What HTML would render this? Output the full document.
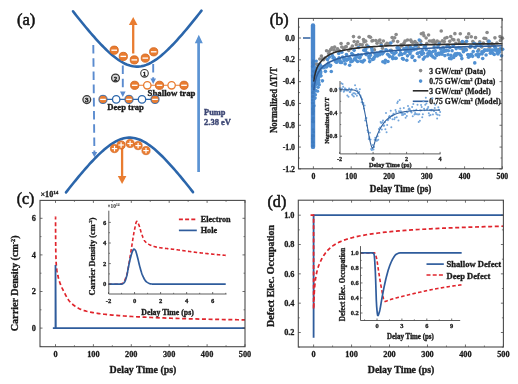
<!DOCTYPE html>
<html><head><meta charset="utf-8"><style>
html,body{margin:0;padding:0;background:#fff;}
svg{display:block;font-family:"Liberation Serif", serif;filter:blur(0.4px);}
</style></head><body>
<svg width="518" height="384" viewBox="0 0 518 384">
<rect width="518" height="384" fill="#fff"/>
<text x="17" y="24.9" font-size="17" text-anchor="start" font-weight="normal" fill="#111" textLength="18.3" lengthAdjust="spacingAndGlyphs" stroke="#111" stroke-width="0.55">(a)</text>
<path d="M73,11.31 L74.63,13.38 L76.25,15.44 L77.88,17.49 L79.51,19.52 L81.13,21.54 L82.76,23.54 L84.39,25.52 L86.01,27.48 L87.64,29.43 L89.27,31.35 L90.89,33.25 L92.52,35.13 L94.15,36.98 L95.77,38.8 L97.4,40.59 L99.03,42.35 L100.65,44.07 L102.28,45.76 L103.91,47.41 L105.53,49.02 L107.16,50.58 L108.78,52.09 L110.41,53.55 L112.04,54.96 L113.66,56.3 L115.29,57.59 L116.92,58.8 L118.54,59.94 L120.17,61.01 L121.8,62 L123.42,62.9 L125.05,63.71 L126.68,64.43 L128.3,65.05 L129.93,65.57 L131.56,65.99 L133.18,66.3 L134.81,66.5 L136.44,66.59 L138.06,66.58 L139.69,66.45 L141.32,66.21 L142.94,65.87 L144.57,65.42 L146.2,64.87 L147.82,64.22 L149.45,63.47 L151.08,62.63 L152.7,61.7 L154.33,60.69 L155.96,59.6 L157.58,58.44 L159.21,57.2 L160.84,55.9 L162.46,54.53 L164.09,53.11 L165.72,51.63 L167.34,50.1 L168.97,48.53 L170.59,46.91 L172.22,45.25 L173.85,43.55 L175.47,41.81 L177.1,40.04 L178.73,38.24 L180.35,36.41 L181.98,34.55 L183.61,32.67 L185.23,30.76 L186.86,28.83 L188.49,26.88 L190.11,24.91 L191.74,22.92 L193.37,20.92 L194.99,18.9 L196.62,16.86 L198.25,14.81 L199.87,12.75 L201.5,10.67" fill="none" stroke="#2b66ab" stroke-width="2.6" stroke-linecap="round"/>
<path d="M66,192.38 L67.61,190.33 L69.22,188.3 L70.82,186.28 L72.43,184.28 L74.04,182.29 L75.65,180.31 L77.25,178.36 L78.86,176.42 L80.47,174.5 L82.08,172.6 L83.68,170.73 L85.29,168.88 L86.9,167.05 L88.51,165.25 L90.11,163.49 L91.72,161.75 L93.33,160.05 L94.94,158.38 L96.54,156.75 L98.15,155.16 L99.76,153.62 L101.37,152.12 L102.97,150.68 L104.58,149.29 L106.19,147.96 L107.8,146.69 L109.41,145.48 L111.01,144.35 L112.62,143.28 L114.23,142.3 L115.84,141.4 L117.44,140.59 L119.05,139.87 L120.66,139.24 L122.27,138.71 L123.87,138.28 L125.48,137.95 L127.09,137.73 L128.7,137.62 L130.3,137.61 L131.91,137.71 L133.52,137.92 L135.13,138.23 L136.73,138.65 L138.34,139.17 L139.95,139.78 L141.56,140.49 L143.16,141.3 L144.77,142.19 L146.38,143.16 L147.99,144.21 L149.59,145.34 L151.2,146.53 L152.81,147.79 L154.42,149.12 L156.03,150.5 L157.63,151.94 L159.24,153.43 L160.85,154.97 L162.46,156.55 L164.06,158.17 L165.67,159.84 L167.28,161.54 L168.89,163.27 L170.49,165.03 L172.1,166.83 L173.71,168.65 L175.32,170.5 L176.92,172.37 L178.53,174.26 L180.14,176.18 L181.75,178.11 L183.35,180.07 L184.96,182.04 L186.57,184.03 L188.18,186.03 L189.78,188.05 L191.39,190.08 L193,192.13" fill="none" stroke="#2b66ab" stroke-width="2.6" stroke-linecap="round"/>
<line x1="198.6" y1="172" x2="198.6" y2="41" stroke="#5b93d3" stroke-width="2.7"/>
<path d="M198.8,34.8 L202.8,43.2 L194.8,43.2 Z" fill="#5b93d3"/>
<text x="204.1" y="114.6" font-size="8.4" text-anchor="start" font-weight="bold" fill="#3c4674" textLength="21.4" lengthAdjust="spacingAndGlyphs" stroke="#3c4674" stroke-width="0.38">Pump</text>
<text x="204.1" y="124.8" font-size="8.4" text-anchor="start" font-weight="bold" fill="#3c4674" textLength="26.9" lengthAdjust="spacingAndGlyphs" stroke="#3c4674" stroke-width="0.38">2.38 eV</text>
<line x1="93.3" y1="45" x2="94.4" y2="153.8" stroke="#5a8bcf" stroke-width="1.9" stroke-dasharray="8.6,4.6"/>
<path d="M94.4,157.3 L97.2,151.9 L91.60000000000001,151.9 Z" fill="#5a8bcf"/>
<line x1="122.8" y1="65.5" x2="122.8" y2="93.5" stroke="#5a8bcf" stroke-width="1.9" stroke-dasharray="8.6,4.6"/>
<path d="M122.8,97 L125.6,91.6 L120.0,91.6 Z" fill="#5a8bcf"/>
<line x1="153.2" y1="64" x2="153.2" y2="80.5" stroke="#5a8bcf" stroke-width="1.9" stroke-dasharray="8.6,4.6"/>
<path d="M153.2,84 L156.0,78.6 L150.39999999999998,78.6 Z" fill="#5a8bcf"/>
<line x1="133.2" y1="53.5" x2="133.2" y2="24" stroke="#e97c30" stroke-width="2.3"/>
<path d="M133.2,17 L137.5,25 L128.9,25 Z" fill="#e97c30"/>
<line x1="122.1" y1="146" x2="122.1" y2="177" stroke="#e97c30" stroke-width="2.3"/>
<path d="M122.1,184 L126.4,176 L117.8,176 Z" fill="#e97c30"/>
<circle cx="114.2" cy="50.2" r="4.1" fill="#e97c30" stroke="#d4661f" stroke-width="0.9"/>
<rect x="111.4" y="49.550000000000004" width="5.6" height="1.3" fill="#fff"/>
<circle cx="123.3" cy="56.4" r="4.1" fill="#e97c30" stroke="#d4661f" stroke-width="0.9"/>
<rect x="120.5" y="55.75" width="5.6" height="1.3" fill="#fff"/>
<circle cx="134.3" cy="59.9" r="4.1" fill="#e97c30" stroke="#d4661f" stroke-width="0.9"/>
<rect x="131.5" y="59.25" width="5.6" height="1.3" fill="#fff"/>
<circle cx="145.3" cy="58.1" r="4.1" fill="#e97c30" stroke="#d4661f" stroke-width="0.9"/>
<rect x="142.5" y="57.45" width="5.6" height="1.3" fill="#fff"/>
<circle cx="153.7" cy="51.8" r="4.1" fill="#e97c30" stroke="#d4661f" stroke-width="0.9"/>
<rect x="150.89999999999998" y="51.15" width="5.6" height="1.3" fill="#fff"/>
<circle cx="114.5" cy="148.6" r="4.1" fill="#e97c30" stroke="#d4661f" stroke-width="0.7"/>
<rect x="111.8" y="148.0" width="5.4" height="1.2" fill="#fff"/>
<rect x="113.9" y="145.9" width="1.2" height="5.4" fill="#fff"/>
<circle cx="146.0" cy="150.6" r="4.1" fill="#e97c30" stroke="#d4661f" stroke-width="0.7"/>
<rect x="143.3" y="150.0" width="5.4" height="1.2" fill="#fff"/>
<rect x="145.4" y="147.9" width="1.2" height="5.4" fill="#fff"/>
<circle cx="138.1" cy="145.6" r="4.1" fill="#e97c30" stroke="#d4661f" stroke-width="0.7"/>
<rect x="135.4" y="145.0" width="5.4" height="1.2" fill="#fff"/>
<rect x="137.5" y="142.9" width="1.2" height="5.4" fill="#fff"/>
<circle cx="121.1" cy="145" r="4.1" fill="#e97c30" stroke="#d4661f" stroke-width="0.7"/>
<rect x="118.39999999999999" y="144.4" width="5.4" height="1.2" fill="#fff"/>
<rect x="120.5" y="142.3" width="1.2" height="5.4" fill="#fff"/>
<circle cx="130.1" cy="143.5" r="4.1" fill="#e97c30" stroke="#d4661f" stroke-width="0.7"/>
<rect x="127.39999999999999" y="142.9" width="5.4" height="1.2" fill="#fff"/>
<rect x="129.5" y="140.8" width="1.2" height="5.4" fill="#fff"/>
<line x1="134" y1="85.3" x2="185" y2="85.3" stroke="#e97c30" stroke-width="1.1"/>
<circle cx="134.7" cy="85.3" r="4.1" fill="#e97c30" stroke="#d4661f" stroke-width="0.9"/>
<rect x="131.89999999999998" y="84.64999999999999" width="5.6" height="1.3" fill="#fff"/>
<circle cx="147.3" cy="85.3" r="3.7" fill="#fff" stroke="#e97c30" stroke-width="1.3"/>
<circle cx="159.5" cy="85.3" r="4.1" fill="#e97c30" stroke="#d4661f" stroke-width="0.9"/>
<rect x="156.7" y="84.64999999999999" width="5.6" height="1.3" fill="#fff"/>
<circle cx="171.6" cy="85.3" r="3.7" fill="#fff" stroke="#e97c30" stroke-width="1.3"/>
<circle cx="184" cy="85.3" r="4.1" fill="#e97c30" stroke="#d4661f" stroke-width="0.9"/>
<rect x="181.2" y="84.64999999999999" width="5.6" height="1.3" fill="#fff"/>
<text x="147.6" y="95.7" font-size="8.6" text-anchor="start" font-weight="bold" fill="#1a1a1a" textLength="47.9" lengthAdjust="spacingAndGlyphs" stroke="#1a1a1a" stroke-width="0.35">Shallow trap</text>
<line x1="103" y1="99.4" x2="155" y2="99.4" stroke="#2b66ab" stroke-width="1.1"/>
<circle cx="103" cy="99.4" r="4.1" fill="#e97c30" stroke="#2b66ab" stroke-width="0.9"/>
<rect x="100.2" y="98.75" width="5.6" height="1.3" fill="#fff"/>
<circle cx="116.2" cy="99.4" r="3.7" fill="#fff" stroke="#2b66ab" stroke-width="1.3"/>
<circle cx="129" cy="99.4" r="4.1" fill="#e97c30" stroke="#2b66ab" stroke-width="0.9"/>
<rect x="126.2" y="98.75" width="5.6" height="1.3" fill="#fff"/>
<circle cx="142" cy="99.4" r="3.7" fill="#fff" stroke="#2b66ab" stroke-width="1.3"/>
<circle cx="155" cy="99.4" r="4.1" fill="#e97c30" stroke="#2b66ab" stroke-width="0.9"/>
<rect x="152.2" y="98.75" width="5.6" height="1.3" fill="#fff"/>
<text x="107.3" y="110.4" font-size="8.6" text-anchor="start" font-weight="bold" fill="#1a1a1a" textLength="36.5" lengthAdjust="spacingAndGlyphs" stroke="#1a1a1a" stroke-width="0.35">Deep trap</text>
<circle cx="144.5" cy="73.3" r="3.8" fill="#fff" stroke="#3a3a3a" stroke-width="1.1"/>
<text x="144.5" y="75.7" font-size="6.8" text-anchor="middle" font-weight="bold" fill="#222" stroke="#222" stroke-width="0.3">1</text>
<circle cx="115.5" cy="78.0" r="3.9" fill="#d8d8d8" stroke="#3a3a3a" stroke-width="1.3"/>
<text x="115.5" y="80.5" font-size="7.0" text-anchor="middle" font-weight="bold" fill="#2a2a2a" stroke="#2a2a2a" stroke-width="0.5">2</text>
<circle cx="86.8" cy="99.6" r="3.9" fill="#d8d8d8" stroke="#3a3a3a" stroke-width="1.3"/>
<text x="86.8" y="102.1" font-size="7.0" text-anchor="middle" font-weight="bold" fill="#2a2a2a" stroke="#2a2a2a" stroke-width="0.5">3</text>
<text x="269.8" y="24.9" font-size="17" text-anchor="start" font-weight="normal" fill="#111" textLength="18.7" lengthAdjust="spacingAndGlyphs" stroke="#111" stroke-width="0.55">(b)</text>
<circle cx="315.6" cy="64.02" r="1.8" fill="#8a8a8a"/>
<circle cx="317.05" cy="64.28" r="1.8" fill="#8a8a8a"/>
<circle cx="318.05" cy="64.63" r="1.8" fill="#8a8a8a"/>
<circle cx="319.78" cy="58.95" r="1.8" fill="#8a8a8a"/>
<circle cx="321.4" cy="56" r="1.8" fill="#8a8a8a"/>
<circle cx="322.22" cy="58.72" r="1.8" fill="#8a8a8a"/>
<circle cx="323.62" cy="59.7" r="1.8" fill="#8a8a8a"/>
<circle cx="325.05" cy="57.93" r="1.8" fill="#8a8a8a"/>
<circle cx="326.57" cy="50.81" r="1.8" fill="#8a8a8a"/>
<circle cx="328.73" cy="53.54" r="1.8" fill="#8a8a8a"/>
<circle cx="329.07" cy="51.55" r="1.8" fill="#8a8a8a"/>
<circle cx="330.64" cy="49.67" r="1.8" fill="#8a8a8a"/>
<circle cx="332.01" cy="47.83" r="1.8" fill="#8a8a8a"/>
<circle cx="333.75" cy="49.95" r="1.8" fill="#8a8a8a"/>
<circle cx="334.63" cy="47.17" r="1.8" fill="#8a8a8a"/>
<circle cx="336.52" cy="50.75" r="1.8" fill="#8a8a8a"/>
<circle cx="337.58" cy="48.89" r="1.8" fill="#8a8a8a"/>
<circle cx="339.1" cy="50.53" r="1.8" fill="#8a8a8a"/>
<circle cx="341.08" cy="43.55" r="1.8" fill="#8a8a8a"/>
<circle cx="341.79" cy="46.93" r="1.8" fill="#8a8a8a"/>
<circle cx="343.67" cy="48.75" r="1.8" fill="#8a8a8a"/>
<circle cx="344.83" cy="47.33" r="1.8" fill="#8a8a8a"/>
<circle cx="346.23" cy="46.66" r="1.8" fill="#8a8a8a"/>
<circle cx="348.08" cy="43.43" r="1.8" fill="#8a8a8a"/>
<circle cx="348.73" cy="50.5" r="1.8" fill="#8a8a8a"/>
<circle cx="350.99" cy="48.37" r="1.8" fill="#8a8a8a"/>
<circle cx="352.35" cy="46.06" r="1.8" fill="#8a8a8a"/>
<circle cx="353.48" cy="36.6" r="1.8" fill="#8a8a8a"/>
<circle cx="354.18" cy="41.52" r="1.8" fill="#8a8a8a"/>
<circle cx="356.27" cy="44.65" r="1.8" fill="#8a8a8a"/>
<circle cx="357.59" cy="41.82" r="1.8" fill="#8a8a8a"/>
<circle cx="359.18" cy="37.26" r="1.8" fill="#8a8a8a"/>
<circle cx="359.94" cy="44.64" r="1.8" fill="#8a8a8a"/>
<circle cx="362.17" cy="44.87" r="1.8" fill="#8a8a8a"/>
<circle cx="363.49" cy="39.54" r="1.8" fill="#8a8a8a"/>
<circle cx="364" cy="41.87" r="1.8" fill="#8a8a8a"/>
<circle cx="365.63" cy="41.13" r="1.8" fill="#8a8a8a"/>
<circle cx="366.7" cy="44.98" r="1.8" fill="#8a8a8a"/>
<circle cx="369" cy="36.62" r="1.8" fill="#8a8a8a"/>
<circle cx="370.49" cy="37.21" r="1.8" fill="#8a8a8a"/>
<circle cx="371.96" cy="40.97" r="1.8" fill="#8a8a8a"/>
<circle cx="372.93" cy="40.5" r="1.8" fill="#8a8a8a"/>
<circle cx="374.38" cy="49.7" r="1.8" fill="#8a8a8a"/>
<circle cx="375.79" cy="40.46" r="1.8" fill="#8a8a8a"/>
<circle cx="377.06" cy="43.25" r="1.8" fill="#8a8a8a"/>
<circle cx="378.89" cy="40.97" r="1.8" fill="#8a8a8a"/>
<circle cx="379.89" cy="40.04" r="1.8" fill="#8a8a8a"/>
<circle cx="380.98" cy="43.56" r="1.8" fill="#8a8a8a"/>
<circle cx="382.57" cy="48.25" r="1.8" fill="#8a8a8a"/>
<circle cx="383.4" cy="40.95" r="1.8" fill="#8a8a8a"/>
<circle cx="385.6" cy="44.78" r="1.8" fill="#8a8a8a"/>
<circle cx="386.96" cy="43.26" r="1.8" fill="#8a8a8a"/>
<circle cx="388.04" cy="44.21" r="1.8" fill="#8a8a8a"/>
<circle cx="389.92" cy="43.19" r="1.8" fill="#8a8a8a"/>
<circle cx="391.21" cy="50.28" r="1.8" fill="#8a8a8a"/>
<circle cx="392.13" cy="37.45" r="1.8" fill="#8a8a8a"/>
<circle cx="393.23" cy="40.91" r="1.8" fill="#8a8a8a"/>
<circle cx="394.68" cy="37.7" r="1.8" fill="#8a8a8a"/>
<circle cx="396.13" cy="34.44" r="1.8" fill="#8a8a8a"/>
<circle cx="397.66" cy="41.59" r="1.8" fill="#8a8a8a"/>
<circle cx="399.22" cy="48.32" r="1.8" fill="#8a8a8a"/>
<circle cx="401.16" cy="44.91" r="1.8" fill="#8a8a8a"/>
<circle cx="401.82" cy="46.07" r="1.8" fill="#8a8a8a"/>
<circle cx="403.91" cy="43.37" r="1.8" fill="#8a8a8a"/>
<circle cx="405.06" cy="41.14" r="1.8" fill="#8a8a8a"/>
<circle cx="406.65" cy="49.01" r="1.8" fill="#8a8a8a"/>
<circle cx="407.53" cy="40.07" r="1.8" fill="#8a8a8a"/>
<circle cx="408.47" cy="47.12" r="1.8" fill="#8a8a8a"/>
<circle cx="410.75" cy="40.14" r="1.8" fill="#8a8a8a"/>
<circle cx="411.53" cy="41.69" r="1.8" fill="#8a8a8a"/>
<circle cx="412.81" cy="42.45" r="1.8" fill="#8a8a8a"/>
<circle cx="414.95" cy="41.46" r="1.8" fill="#8a8a8a"/>
<circle cx="416.21" cy="43.26" r="1.8" fill="#8a8a8a"/>
<circle cx="417.07" cy="43.53" r="1.8" fill="#8a8a8a"/>
<circle cx="418.53" cy="47.72" r="1.8" fill="#8a8a8a"/>
<circle cx="420.68" cy="41.15" r="1.8" fill="#8a8a8a"/>
<circle cx="421.31" cy="33.69" r="1.8" fill="#8a8a8a"/>
<circle cx="423.2" cy="33.07" r="1.8" fill="#8a8a8a"/>
<circle cx="423.94" cy="35.67" r="1.8" fill="#8a8a8a"/>
<circle cx="426.11" cy="38.07" r="1.8" fill="#8a8a8a"/>
<circle cx="426.72" cy="43.63" r="1.8" fill="#8a8a8a"/>
<circle cx="428.56" cy="35.01" r="1.8" fill="#8a8a8a"/>
<circle cx="429.41" cy="41.07" r="1.8" fill="#8a8a8a"/>
<circle cx="431.39" cy="41.08" r="1.8" fill="#8a8a8a"/>
<circle cx="433.12" cy="41.97" r="1.8" fill="#8a8a8a"/>
<circle cx="433.65" cy="40.38" r="1.8" fill="#8a8a8a"/>
<circle cx="435.25" cy="42.53" r="1.8" fill="#8a8a8a"/>
<circle cx="437.2" cy="41.04" r="1.8" fill="#8a8a8a"/>
<circle cx="438.42" cy="45.19" r="1.8" fill="#8a8a8a"/>
<circle cx="439.48" cy="42.21" r="1.8" fill="#8a8a8a"/>
<circle cx="441.23" cy="31.03" r="1.8" fill="#8a8a8a"/>
<circle cx="442.43" cy="40.89" r="1.8" fill="#8a8a8a"/>
<circle cx="444.28" cy="41.58" r="1.8" fill="#8a8a8a"/>
<circle cx="445.03" cy="38.29" r="1.8" fill="#8a8a8a"/>
<circle cx="446.95" cy="37.5" r="1.8" fill="#8a8a8a"/>
<circle cx="448.21" cy="45.27" r="1.8" fill="#8a8a8a"/>
<circle cx="449.72" cy="41.37" r="1.8" fill="#8a8a8a"/>
<circle cx="450.7" cy="36.5" r="1.8" fill="#8a8a8a"/>
<circle cx="452.49" cy="39.27" r="1.8" fill="#8a8a8a"/>
<circle cx="453.85" cy="39.89" r="1.8" fill="#8a8a8a"/>
<circle cx="454.89" cy="33.63" r="1.8" fill="#8a8a8a"/>
<circle cx="455.88" cy="43.35" r="1.8" fill="#8a8a8a"/>
<circle cx="458.33" cy="39.99" r="1.8" fill="#8a8a8a"/>
<circle cx="459.44" cy="42.63" r="1.8" fill="#8a8a8a"/>
<circle cx="460.26" cy="33.74" r="1.8" fill="#8a8a8a"/>
<circle cx="462.25" cy="48.98" r="1.8" fill="#8a8a8a"/>
<circle cx="463.13" cy="43.27" r="1.8" fill="#8a8a8a"/>
<circle cx="464.74" cy="42.64" r="1.8" fill="#8a8a8a"/>
<circle cx="466.58" cy="37.26" r="1.8" fill="#8a8a8a"/>
<circle cx="467.5" cy="37.5" r="1.8" fill="#8a8a8a"/>
<circle cx="468.72" cy="33.91" r="1.8" fill="#8a8a8a"/>
<circle cx="470.13" cy="47.34" r="1.8" fill="#8a8a8a"/>
<circle cx="471.26" cy="36.78" r="1.8" fill="#8a8a8a"/>
<circle cx="472.82" cy="41.51" r="1.8" fill="#8a8a8a"/>
<circle cx="474.27" cy="43.21" r="1.8" fill="#8a8a8a"/>
<circle cx="475.55" cy="37.66" r="1.8" fill="#8a8a8a"/>
<circle cx="476.82" cy="44.37" r="1.8" fill="#8a8a8a"/>
<circle cx="478.67" cy="49.74" r="1.8" fill="#8a8a8a"/>
<circle cx="479.78" cy="41.82" r="1.8" fill="#8a8a8a"/>
<circle cx="481.77" cy="47.07" r="1.8" fill="#8a8a8a"/>
<circle cx="483.37" cy="43.11" r="1.8" fill="#8a8a8a"/>
<circle cx="484.03" cy="38.31" r="1.8" fill="#8a8a8a"/>
<circle cx="485.76" cy="38.57" r="1.8" fill="#8a8a8a"/>
<circle cx="487.08" cy="32.52" r="1.8" fill="#8a8a8a"/>
<circle cx="487.98" cy="40.97" r="1.8" fill="#8a8a8a"/>
<circle cx="489.43" cy="47.31" r="1.8" fill="#8a8a8a"/>
<circle cx="491.69" cy="43.61" r="1.8" fill="#8a8a8a"/>
<circle cx="492.62" cy="44.39" r="1.8" fill="#8a8a8a"/>
<circle cx="494.38" cy="45.83" r="1.8" fill="#8a8a8a"/>
<circle cx="494.94" cy="37.86" r="1.8" fill="#8a8a8a"/>
<circle cx="496.93" cy="43.07" r="1.8" fill="#8a8a8a"/>
<circle cx="498.63" cy="49.55" r="1.8" fill="#8a8a8a"/>
<circle cx="500.03" cy="36.52" r="1.8" fill="#8a8a8a"/>
<circle cx="500.45" cy="40.46" r="1.8" fill="#8a8a8a"/>
<circle cx="502.42" cy="38.15" r="1.8" fill="#8a8a8a"/>
<circle cx="315.01" cy="87.07" r="1.8" fill="#5090d2"/>
<circle cx="315.91" cy="75.27" r="1.8" fill="#5090d2"/>
<circle cx="316.51" cy="84.28" r="1.8" fill="#5090d2"/>
<circle cx="316.8" cy="78.34" r="1.8" fill="#5090d2"/>
<circle cx="317.55" cy="75.96" r="1.8" fill="#5090d2"/>
<circle cx="318.68" cy="79.75" r="1.8" fill="#5090d2"/>
<circle cx="318.72" cy="65.72" r="1.8" fill="#5090d2"/>
<circle cx="320.03" cy="64.88" r="1.8" fill="#5090d2"/>
<circle cx="320.71" cy="72.83" r="1.8" fill="#5090d2"/>
<circle cx="321.16" cy="66.65" r="1.8" fill="#5090d2"/>
<circle cx="321.73" cy="67.83" r="1.8" fill="#5090d2"/>
<circle cx="322.41" cy="80.86" r="1.8" fill="#5090d2"/>
<circle cx="323.09" cy="67.1" r="1.8" fill="#5090d2"/>
<circle cx="323.93" cy="67.82" r="1.8" fill="#5090d2"/>
<circle cx="324.67" cy="66.57" r="1.8" fill="#5090d2"/>
<circle cx="325.41" cy="71.35" r="1.8" fill="#5090d2"/>
<circle cx="326.44" cy="66.96" r="1.8" fill="#5090d2"/>
<circle cx="326.98" cy="66.2" r="1.8" fill="#5090d2"/>
<circle cx="327.55" cy="59.6" r="1.8" fill="#5090d2"/>
<circle cx="328.52" cy="62.96" r="1.8" fill="#5090d2"/>
<circle cx="328.64" cy="64.46" r="1.8" fill="#5090d2"/>
<circle cx="329.29" cy="57.09" r="1.8" fill="#5090d2"/>
<circle cx="330.33" cy="66.12" r="1.8" fill="#5090d2"/>
<circle cx="330.6" cy="65.23" r="1.8" fill="#5090d2"/>
<circle cx="331.29" cy="71.46" r="1.8" fill="#5090d2"/>
<circle cx="332.35" cy="55.48" r="1.8" fill="#5090d2"/>
<circle cx="333.01" cy="57.98" r="1.8" fill="#5090d2"/>
<circle cx="334.05" cy="57.79" r="1.8" fill="#5090d2"/>
<circle cx="334.53" cy="58.74" r="1.8" fill="#5090d2"/>
<circle cx="335.14" cy="61.08" r="1.8" fill="#5090d2"/>
<circle cx="335.82" cy="60.35" r="1.8" fill="#5090d2"/>
<circle cx="336.33" cy="62.31" r="1.8" fill="#5090d2"/>
<circle cx="336.85" cy="61.92" r="1.8" fill="#5090d2"/>
<circle cx="337.68" cy="60.46" r="1.8" fill="#5090d2"/>
<circle cx="338.75" cy="53.45" r="1.8" fill="#5090d2"/>
<circle cx="339.08" cy="57.73" r="1.8" fill="#5090d2"/>
<circle cx="339.9" cy="60.3" r="1.8" fill="#5090d2"/>
<circle cx="340.33" cy="62.57" r="1.8" fill="#5090d2"/>
<circle cx="341.65" cy="62.48" r="1.8" fill="#5090d2"/>
<circle cx="341.83" cy="52.18" r="1.8" fill="#5090d2"/>
<circle cx="342.62" cy="57.01" r="1.8" fill="#5090d2"/>
<circle cx="343.78" cy="58.75" r="1.8" fill="#5090d2"/>
<circle cx="344.19" cy="60.55" r="1.8" fill="#5090d2"/>
<circle cx="345.14" cy="63.85" r="1.8" fill="#5090d2"/>
<circle cx="345.68" cy="58.97" r="1.8" fill="#5090d2"/>
<circle cx="346.46" cy="54.51" r="1.8" fill="#5090d2"/>
<circle cx="346.66" cy="60.27" r="1.8" fill="#5090d2"/>
<circle cx="347.7" cy="59.33" r="1.8" fill="#5090d2"/>
<circle cx="348.37" cy="59.19" r="1.8" fill="#5090d2"/>
<circle cx="349.34" cy="57.52" r="1.8" fill="#5090d2"/>
<circle cx="349.66" cy="65.28" r="1.8" fill="#5090d2"/>
<circle cx="350.53" cy="58.93" r="1.8" fill="#5090d2"/>
<circle cx="350.82" cy="61.72" r="1.8" fill="#5090d2"/>
<circle cx="351.77" cy="53.62" r="1.8" fill="#5090d2"/>
<circle cx="352.42" cy="61.11" r="1.8" fill="#5090d2"/>
<circle cx="352.98" cy="54.86" r="1.8" fill="#5090d2"/>
<circle cx="354.18" cy="50.36" r="1.8" fill="#5090d2"/>
<circle cx="354.55" cy="58.73" r="1.8" fill="#5090d2"/>
<circle cx="355.7" cy="59.9" r="1.8" fill="#5090d2"/>
<circle cx="356.1" cy="56.21" r="1.8" fill="#5090d2"/>
<circle cx="356.81" cy="57" r="1.8" fill="#5090d2"/>
<circle cx="357.53" cy="61.45" r="1.8" fill="#5090d2"/>
<circle cx="358.26" cy="54.69" r="1.8" fill="#5090d2"/>
<circle cx="358.56" cy="47.53" r="1.8" fill="#5090d2"/>
<circle cx="359.47" cy="57.83" r="1.8" fill="#5090d2"/>
<circle cx="360.02" cy="57.51" r="1.8" fill="#5090d2"/>
<circle cx="360.84" cy="61.26" r="1.8" fill="#5090d2"/>
<circle cx="361.3" cy="54.95" r="1.8" fill="#5090d2"/>
<circle cx="362.66" cy="61.95" r="1.8" fill="#5090d2"/>
<circle cx="362.79" cy="61.3" r="1.8" fill="#5090d2"/>
<circle cx="363.83" cy="50.23" r="1.8" fill="#5090d2"/>
<circle cx="364.25" cy="60.19" r="1.8" fill="#5090d2"/>
<circle cx="365.38" cy="50.95" r="1.8" fill="#5090d2"/>
<circle cx="365.91" cy="48.86" r="1.8" fill="#5090d2"/>
<circle cx="366.21" cy="54.62" r="1.8" fill="#5090d2"/>
<circle cx="367.45" cy="53.12" r="1.8" fill="#5090d2"/>
<circle cx="368.22" cy="46.63" r="1.8" fill="#5090d2"/>
<circle cx="368.88" cy="56.39" r="1.8" fill="#5090d2"/>
<circle cx="369.33" cy="58.16" r="1.8" fill="#5090d2"/>
<circle cx="369.71" cy="61.6" r="1.8" fill="#5090d2"/>
<circle cx="370.44" cy="55.13" r="1.8" fill="#5090d2"/>
<circle cx="371.69" cy="48.4" r="1.8" fill="#5090d2"/>
<circle cx="372.1" cy="50.74" r="1.8" fill="#5090d2"/>
<circle cx="372.52" cy="59.4" r="1.8" fill="#5090d2"/>
<circle cx="373.75" cy="58.88" r="1.8" fill="#5090d2"/>
<circle cx="374.26" cy="57.21" r="1.8" fill="#5090d2"/>
<circle cx="374.91" cy="53.5" r="1.8" fill="#5090d2"/>
<circle cx="375.46" cy="55.72" r="1.8" fill="#5090d2"/>
<circle cx="376.18" cy="53.72" r="1.8" fill="#5090d2"/>
<circle cx="376.75" cy="53.29" r="1.8" fill="#5090d2"/>
<circle cx="377.29" cy="55.96" r="1.8" fill="#5090d2"/>
<circle cx="378.62" cy="54.64" r="1.8" fill="#5090d2"/>
<circle cx="379.01" cy="53.48" r="1.8" fill="#5090d2"/>
<circle cx="379.77" cy="54.73" r="1.8" fill="#5090d2"/>
<circle cx="380.29" cy="51.99" r="1.8" fill="#5090d2"/>
<circle cx="381.32" cy="45.63" r="1.8" fill="#5090d2"/>
<circle cx="381.46" cy="51.48" r="1.8" fill="#5090d2"/>
<circle cx="382.42" cy="53.85" r="1.8" fill="#5090d2"/>
<circle cx="382.86" cy="61.79" r="1.8" fill="#5090d2"/>
<circle cx="383.63" cy="52.22" r="1.8" fill="#5090d2"/>
<circle cx="384.96" cy="62.79" r="1.8" fill="#5090d2"/>
<circle cx="385.43" cy="60.29" r="1.8" fill="#5090d2"/>
<circle cx="385.95" cy="49.87" r="1.8" fill="#5090d2"/>
<circle cx="386.72" cy="50.49" r="1.8" fill="#5090d2"/>
<circle cx="387.68" cy="54.33" r="1.8" fill="#5090d2"/>
<circle cx="387.98" cy="61.46" r="1.8" fill="#5090d2"/>
<circle cx="388.86" cy="55.25" r="1.8" fill="#5090d2"/>
<circle cx="389.63" cy="56.6" r="1.8" fill="#5090d2"/>
<circle cx="390.08" cy="50.53" r="1.8" fill="#5090d2"/>
<circle cx="390.9" cy="43.04" r="1.8" fill="#5090d2"/>
<circle cx="391.78" cy="52.33" r="1.8" fill="#5090d2"/>
<circle cx="392.59" cy="56.83" r="1.8" fill="#5090d2"/>
<circle cx="392.71" cy="58.61" r="1.8" fill="#5090d2"/>
<circle cx="394" cy="53.41" r="1.8" fill="#5090d2"/>
<circle cx="393.99" cy="53.96" r="1.8" fill="#5090d2"/>
<circle cx="395.26" cy="58.34" r="1.8" fill="#5090d2"/>
<circle cx="396" cy="52.48" r="1.8" fill="#5090d2"/>
<circle cx="396.18" cy="58.27" r="1.8" fill="#5090d2"/>
<circle cx="397.09" cy="47.84" r="1.8" fill="#5090d2"/>
<circle cx="398.09" cy="48" r="1.8" fill="#5090d2"/>
<circle cx="398.18" cy="47.89" r="1.8" fill="#5090d2"/>
<circle cx="399.34" cy="54.96" r="1.8" fill="#5090d2"/>
<circle cx="400.17" cy="50.37" r="1.8" fill="#5090d2"/>
<circle cx="400.65" cy="53.3" r="1.8" fill="#5090d2"/>
<circle cx="401.51" cy="54.43" r="1.8" fill="#5090d2"/>
<circle cx="401.83" cy="54.18" r="1.8" fill="#5090d2"/>
<circle cx="402.5" cy="58.54" r="1.8" fill="#5090d2"/>
<circle cx="403.33" cy="59.14" r="1.8" fill="#5090d2"/>
<circle cx="403.88" cy="48.86" r="1.8" fill="#5090d2"/>
<circle cx="404.71" cy="53.32" r="1.8" fill="#5090d2"/>
<circle cx="405.86" cy="51.38" r="1.8" fill="#5090d2"/>
<circle cx="406.27" cy="47.76" r="1.8" fill="#5090d2"/>
<circle cx="406.79" cy="60.26" r="1.8" fill="#5090d2"/>
<circle cx="407.44" cy="55.87" r="1.8" fill="#5090d2"/>
<circle cx="408.65" cy="51.4" r="1.8" fill="#5090d2"/>
<circle cx="408.96" cy="50.39" r="1.8" fill="#5090d2"/>
<circle cx="410.06" cy="53.85" r="1.8" fill="#5090d2"/>
<circle cx="410.41" cy="47.39" r="1.8" fill="#5090d2"/>
<circle cx="411.11" cy="51.1" r="1.8" fill="#5090d2"/>
<circle cx="412.09" cy="57.57" r="1.8" fill="#5090d2"/>
<circle cx="412.67" cy="56.24" r="1.8" fill="#5090d2"/>
<circle cx="413.25" cy="48.25" r="1.8" fill="#5090d2"/>
<circle cx="413.83" cy="49.79" r="1.8" fill="#5090d2"/>
<circle cx="414.87" cy="60.56" r="1.8" fill="#5090d2"/>
<circle cx="415.21" cy="45.66" r="1.8" fill="#5090d2"/>
<circle cx="416.29" cy="49.04" r="1.8" fill="#5090d2"/>
<circle cx="416.35" cy="45.62" r="1.8" fill="#5090d2"/>
<circle cx="417.32" cy="53.48" r="1.8" fill="#5090d2"/>
<circle cx="418.08" cy="53.04" r="1.8" fill="#5090d2"/>
<circle cx="419.1" cy="56.8" r="1.8" fill="#5090d2"/>
<circle cx="419.27" cy="40" r="1.8" fill="#5090d2"/>
<circle cx="420.39" cy="52.37" r="1.8" fill="#5090d2"/>
<circle cx="420.99" cy="44.27" r="1.8" fill="#5090d2"/>
<circle cx="421.71" cy="54.47" r="1.8" fill="#5090d2"/>
<circle cx="422.35" cy="50.73" r="1.8" fill="#5090d2"/>
<circle cx="423.3" cy="59.09" r="1.8" fill="#5090d2"/>
<circle cx="423.51" cy="53.18" r="1.8" fill="#5090d2"/>
<circle cx="424.26" cy="46.88" r="1.8" fill="#5090d2"/>
<circle cx="424.81" cy="57.1" r="1.8" fill="#5090d2"/>
<circle cx="425.39" cy="46.42" r="1.8" fill="#5090d2"/>
<circle cx="426.21" cy="49.76" r="1.8" fill="#5090d2"/>
<circle cx="427.44" cy="56.03" r="1.8" fill="#5090d2"/>
<circle cx="428.08" cy="53.52" r="1.8" fill="#5090d2"/>
<circle cx="428.23" cy="53.32" r="1.8" fill="#5090d2"/>
<circle cx="429.3" cy="51.4" r="1.8" fill="#5090d2"/>
<circle cx="429.9" cy="53.6" r="1.8" fill="#5090d2"/>
<circle cx="430.68" cy="54.9" r="1.8" fill="#5090d2"/>
<circle cx="431.43" cy="52.48" r="1.8" fill="#5090d2"/>
<circle cx="431.86" cy="55.77" r="1.8" fill="#5090d2"/>
<circle cx="433.05" cy="56.93" r="1.8" fill="#5090d2"/>
<circle cx="433.37" cy="51.23" r="1.8" fill="#5090d2"/>
<circle cx="434.19" cy="46.93" r="1.8" fill="#5090d2"/>
<circle cx="434.9" cy="57.96" r="1.8" fill="#5090d2"/>
<circle cx="435.25" cy="50.92" r="1.8" fill="#5090d2"/>
<circle cx="435.86" cy="53.9" r="1.8" fill="#5090d2"/>
<circle cx="436.82" cy="55.36" r="1.8" fill="#5090d2"/>
<circle cx="437.78" cy="46.94" r="1.8" fill="#5090d2"/>
<circle cx="438.52" cy="53.2" r="1.8" fill="#5090d2"/>
<circle cx="439.15" cy="43.94" r="1.8" fill="#5090d2"/>
<circle cx="439.38" cy="54.37" r="1.8" fill="#5090d2"/>
<circle cx="440.68" cy="48.99" r="1.8" fill="#5090d2"/>
<circle cx="441.29" cy="51.78" r="1.8" fill="#5090d2"/>
<circle cx="442.05" cy="54.17" r="1.8" fill="#5090d2"/>
<circle cx="442.48" cy="48.01" r="1.8" fill="#5090d2"/>
<circle cx="443.47" cy="51.38" r="1.8" fill="#5090d2"/>
<circle cx="443.51" cy="47.91" r="1.8" fill="#5090d2"/>
<circle cx="444.2" cy="50.87" r="1.8" fill="#5090d2"/>
<circle cx="444.88" cy="55.61" r="1.8" fill="#5090d2"/>
<circle cx="445.76" cy="51.07" r="1.8" fill="#5090d2"/>
<circle cx="446.45" cy="50.35" r="1.8" fill="#5090d2"/>
<circle cx="447.1" cy="46.18" r="1.8" fill="#5090d2"/>
<circle cx="448.09" cy="54.69" r="1.8" fill="#5090d2"/>
<circle cx="448.38" cy="50.71" r="1.8" fill="#5090d2"/>
<circle cx="449.5" cy="58.39" r="1.8" fill="#5090d2"/>
<circle cx="449.87" cy="47.51" r="1.8" fill="#5090d2"/>
<circle cx="450.96" cy="55.42" r="1.8" fill="#5090d2"/>
<circle cx="451.16" cy="58.74" r="1.8" fill="#5090d2"/>
<circle cx="452.07" cy="50.71" r="1.8" fill="#5090d2"/>
<circle cx="453.25" cy="45.34" r="1.8" fill="#5090d2"/>
<circle cx="453.64" cy="57.38" r="1.8" fill="#5090d2"/>
<circle cx="454.54" cy="55.36" r="1.8" fill="#5090d2"/>
<circle cx="455.12" cy="53.77" r="1.8" fill="#5090d2"/>
<circle cx="455.79" cy="55.52" r="1.8" fill="#5090d2"/>
<circle cx="456.17" cy="48.6" r="1.8" fill="#5090d2"/>
<circle cx="457.15" cy="54.01" r="1.8" fill="#5090d2"/>
<circle cx="457.45" cy="53.61" r="1.8" fill="#5090d2"/>
<circle cx="458.72" cy="47.6" r="1.8" fill="#5090d2"/>
<circle cx="459.53" cy="53.72" r="1.8" fill="#5090d2"/>
<circle cx="460.15" cy="48.26" r="1.8" fill="#5090d2"/>
<circle cx="460.24" cy="54.69" r="1.8" fill="#5090d2"/>
<circle cx="461.16" cy="55.78" r="1.8" fill="#5090d2"/>
<circle cx="461.84" cy="58.62" r="1.8" fill="#5090d2"/>
<circle cx="462.38" cy="41.67" r="1.8" fill="#5090d2"/>
<circle cx="463.46" cy="51.64" r="1.8" fill="#5090d2"/>
<circle cx="464.29" cy="49.04" r="1.8" fill="#5090d2"/>
<circle cx="464.62" cy="50.29" r="1.8" fill="#5090d2"/>
<circle cx="465.73" cy="49.39" r="1.8" fill="#5090d2"/>
<circle cx="466.38" cy="49.89" r="1.8" fill="#5090d2"/>
<circle cx="466.57" cy="41.37" r="1.8" fill="#5090d2"/>
<circle cx="467.75" cy="54.85" r="1.8" fill="#5090d2"/>
<circle cx="468.54" cy="57.21" r="1.8" fill="#5090d2"/>
<circle cx="468.72" cy="54.7" r="1.8" fill="#5090d2"/>
<circle cx="469.7" cy="56.16" r="1.8" fill="#5090d2"/>
<circle cx="470.44" cy="46.61" r="1.8" fill="#5090d2"/>
<circle cx="471.12" cy="46.27" r="1.8" fill="#5090d2"/>
<circle cx="471.43" cy="54.42" r="1.8" fill="#5090d2"/>
<circle cx="472.55" cy="56.37" r="1.8" fill="#5090d2"/>
<circle cx="473.23" cy="51.61" r="1.8" fill="#5090d2"/>
<circle cx="474.07" cy="43.6" r="1.8" fill="#5090d2"/>
<circle cx="474.75" cy="62.88" r="1.8" fill="#5090d2"/>
<circle cx="475.09" cy="47.54" r="1.8" fill="#5090d2"/>
<circle cx="476.08" cy="54.87" r="1.8" fill="#5090d2"/>
<circle cx="476.89" cy="45.16" r="1.8" fill="#5090d2"/>
<circle cx="477.61" cy="54.85" r="1.8" fill="#5090d2"/>
<circle cx="477.75" cy="51.22" r="1.8" fill="#5090d2"/>
<circle cx="478.34" cy="56.8" r="1.8" fill="#5090d2"/>
<circle cx="479.51" cy="54.36" r="1.8" fill="#5090d2"/>
<circle cx="479.88" cy="43.53" r="1.8" fill="#5090d2"/>
<circle cx="480.84" cy="46.1" r="1.8" fill="#5090d2"/>
<circle cx="481.83" cy="51.69" r="1.8" fill="#5090d2"/>
<circle cx="482.1" cy="53.83" r="1.8" fill="#5090d2"/>
<circle cx="482.7" cy="58.51" r="1.8" fill="#5090d2"/>
<circle cx="483.55" cy="51.63" r="1.8" fill="#5090d2"/>
<circle cx="484.4" cy="49.95" r="1.8" fill="#5090d2"/>
<circle cx="484.67" cy="50.19" r="1.8" fill="#5090d2"/>
<circle cx="485.58" cy="50.22" r="1.8" fill="#5090d2"/>
<circle cx="486.09" cy="54.93" r="1.8" fill="#5090d2"/>
<circle cx="487.19" cy="50.08" r="1.8" fill="#5090d2"/>
<circle cx="488.01" cy="49.94" r="1.8" fill="#5090d2"/>
<circle cx="488.37" cy="43.84" r="1.8" fill="#5090d2"/>
<circle cx="489.06" cy="41.2" r="1.8" fill="#5090d2"/>
<circle cx="489.88" cy="50.37" r="1.8" fill="#5090d2"/>
<circle cx="490.34" cy="53.24" r="1.8" fill="#5090d2"/>
<circle cx="491.06" cy="50.02" r="1.8" fill="#5090d2"/>
<circle cx="491.82" cy="52.5" r="1.8" fill="#5090d2"/>
<circle cx="492.61" cy="53.11" r="1.8" fill="#5090d2"/>
<circle cx="493.02" cy="49.97" r="1.8" fill="#5090d2"/>
<circle cx="494.23" cy="54.47" r="1.8" fill="#5090d2"/>
<circle cx="494.79" cy="46.9" r="1.8" fill="#5090d2"/>
<circle cx="495.28" cy="50.15" r="1.8" fill="#5090d2"/>
<circle cx="495.81" cy="48.52" r="1.8" fill="#5090d2"/>
<circle cx="497.02" cy="50.49" r="1.8" fill="#5090d2"/>
<circle cx="497.24" cy="52.99" r="1.8" fill="#5090d2"/>
<circle cx="497.94" cy="53.99" r="1.8" fill="#5090d2"/>
<circle cx="498.64" cy="50.73" r="1.8" fill="#5090d2"/>
<circle cx="499.3" cy="52.15" r="1.8" fill="#5090d2"/>
<circle cx="500.62" cy="48.55" r="1.8" fill="#5090d2"/>
<circle cx="500.83" cy="49.64" r="1.8" fill="#5090d2"/>
<circle cx="501.56" cy="55.85" r="1.8" fill="#5090d2"/>
<circle cx="502.65" cy="49.29" r="1.8" fill="#5090d2"/>
<circle cx="314.78" cy="81.92" r="1.7" fill="#5090d2"/>
<circle cx="319.19" cy="64.94" r="1.7" fill="#5090d2"/>
<circle cx="318.6" cy="72.4" r="1.7" fill="#5090d2"/>
<circle cx="315.43" cy="94.76" r="1.7" fill="#5090d2"/>
<circle cx="315.77" cy="84.33" r="1.7" fill="#5090d2"/>
<circle cx="319.24" cy="84.68" r="1.7" fill="#5090d2"/>
<circle cx="316.1" cy="80.48" r="1.7" fill="#5090d2"/>
<circle cx="315.12" cy="98.06" r="1.7" fill="#5090d2"/>
<circle cx="318.78" cy="75.76" r="1.7" fill="#5090d2"/>
<circle cx="315.91" cy="81.19" r="1.7" fill="#5090d2"/>
<circle cx="314.02" cy="87.74" r="1.7" fill="#5090d2"/>
<circle cx="317.93" cy="77" r="1.7" fill="#5090d2"/>
<circle cx="316.28" cy="61.09" r="1.7" fill="#5090d2"/>
<circle cx="318.01" cy="80.08" r="1.7" fill="#5090d2"/>
<circle cx="318.85" cy="68.96" r="1.7" fill="#5090d2"/>
<circle cx="320.74" cy="75.92" r="1.7" fill="#5090d2"/>
<circle cx="315.6" cy="90.45" r="1.7" fill="#5090d2"/>
<circle cx="320.9" cy="75.67" r="1.7" fill="#5090d2"/>
<circle cx="318.13" cy="87.34" r="1.7" fill="#5090d2"/>
<circle cx="320.6" cy="71.27" r="1.7" fill="#5090d2"/>
<circle cx="317.52" cy="91.13" r="1.7" fill="#5090d2"/>
<circle cx="318.82" cy="68.91" r="1.7" fill="#5090d2"/>
<circle cx="316.13" cy="81.77" r="1.7" fill="#5090d2"/>
<circle cx="314.03" cy="87.06" r="1.7" fill="#5090d2"/>
<circle cx="314.32" cy="98.48" r="1.7" fill="#5090d2"/>
<circle cx="316.17" cy="69.99" r="1.7" fill="#5090d2"/>
<circle cx="314" cy="83.32" r="1.7" fill="#5090d2"/>
<circle cx="316.9" cy="71.87" r="1.7" fill="#5090d2"/>
<circle cx="318.87" cy="76.13" r="1.7" fill="#5090d2"/>
<circle cx="315.54" cy="77.35" r="1.7" fill="#5090d2"/>
<circle cx="320.23" cy="73.53" r="1.7" fill="#5090d2"/>
<circle cx="314.45" cy="79.47" r="1.7" fill="#5090d2"/>
<circle cx="313.98" cy="105.66" r="1.7" fill="#5090d2"/>
<circle cx="313.96" cy="92.42" r="1.7" fill="#5090d2"/>
<circle cx="318.33" cy="65.86" r="1.7" fill="#5090d2"/>
<circle cx="314.9" cy="79.91" r="1.7" fill="#5090d2"/>
<circle cx="316.19" cy="74.38" r="1.7" fill="#5090d2"/>
<circle cx="314.4" cy="83.13" r="1.7" fill="#5090d2"/>
<circle cx="318.64" cy="74.16" r="1.7" fill="#5090d2"/>
<circle cx="318.22" cy="83.21" r="1.7" fill="#5090d2"/>
<circle cx="315.65" cy="79.28" r="1.7" fill="#5090d2"/>
<circle cx="320.62" cy="75.72" r="1.7" fill="#5090d2"/>
<circle cx="318.38" cy="77.93" r="1.7" fill="#5090d2"/>
<circle cx="313.89" cy="94.29" r="1.7" fill="#5090d2"/>
<circle cx="314.26" cy="90.18" r="1.7" fill="#5090d2"/>
<circle cx="318.76" cy="82.51" r="1.7" fill="#5090d2"/>
<circle cx="319.43" cy="68.94" r="1.7" fill="#5090d2"/>
<circle cx="315.05" cy="83.95" r="1.7" fill="#5090d2"/>
<circle cx="319.89" cy="64.67" r="1.7" fill="#5090d2"/>
<circle cx="315.53" cy="67.79" r="1.7" fill="#5090d2"/>
<rect x="310.8" y="23.3" width="4.4" height="125.78" rx="2.2" fill="#4a87cc"/>
<circle cx="312.7" cy="111.96" r="1.3" fill="#3f7cc0"/>
<circle cx="312.21" cy="103" r="1.3" fill="#3f7cc0"/>
<circle cx="312.52" cy="108.45" r="1.3" fill="#3f7cc0"/>
<circle cx="313" cy="84.91" r="1.3" fill="#3f7cc0"/>
<circle cx="313.63" cy="71.26" r="1.3" fill="#3f7cc0"/>
<circle cx="312.65" cy="119.44" r="1.3" fill="#3f7cc0"/>
<circle cx="313.01" cy="65.13" r="1.3" fill="#3f7cc0"/>
<circle cx="312.27" cy="138.66" r="1.3" fill="#3f7cc0"/>
<circle cx="313.13" cy="60.65" r="1.3" fill="#3f7cc0"/>
<circle cx="313.02" cy="142.33" r="1.3" fill="#3f7cc0"/>
<circle cx="312.9" cy="103.09" r="1.3" fill="#3f7cc0"/>
<circle cx="313.72" cy="64.07" r="1.3" fill="#3f7cc0"/>
<circle cx="312.44" cy="136.18" r="1.3" fill="#3f7cc0"/>
<circle cx="313.53" cy="111.52" r="1.3" fill="#3f7cc0"/>
<circle cx="313.37" cy="92.65" r="1.3" fill="#3f7cc0"/>
<circle cx="312.54" cy="96.81" r="1.3" fill="#3f7cc0"/>
<circle cx="312.22" cy="75.72" r="1.3" fill="#3f7cc0"/>
<circle cx="312.51" cy="86.13" r="1.3" fill="#3f7cc0"/>
<circle cx="313.76" cy="105.97" r="1.3" fill="#3f7cc0"/>
<circle cx="312.29" cy="100.04" r="1.3" fill="#3f7cc0"/>
<circle cx="313.26" cy="109.67" r="1.3" fill="#3f7cc0"/>
<circle cx="312.6" cy="142.13" r="1.3" fill="#3f7cc0"/>
<circle cx="313.06" cy="145.48" r="1.3" fill="#3f7cc0"/>
<circle cx="313.01" cy="113.79" r="1.3" fill="#3f7cc0"/>
<circle cx="313.25" cy="121.27" r="1.3" fill="#3f7cc0"/>
<circle cx="313.65" cy="131.98" r="1.3" fill="#3f7cc0"/>
<circle cx="312.99" cy="63.3" r="1.3" fill="#3f7cc0"/>
<circle cx="313.58" cy="106.47" r="1.3" fill="#3f7cc0"/>
<circle cx="313.48" cy="121.79" r="1.3" fill="#3f7cc0"/>
<circle cx="313.35" cy="122.01" r="1.3" fill="#3f7cc0"/>
<circle cx="313.16" cy="117.94" r="1.3" fill="#3f7cc0"/>
<circle cx="312.29" cy="66.29" r="1.3" fill="#3f7cc0"/>
<circle cx="313.07" cy="76.64" r="1.3" fill="#3f7cc0"/>
<circle cx="312.76" cy="114" r="1.3" fill="#3f7cc0"/>
<circle cx="312.61" cy="141.03" r="1.3" fill="#3f7cc0"/>
<circle cx="312.36" cy="92.7" r="1.3" fill="#3f7cc0"/>
<circle cx="313.74" cy="88.67" r="1.3" fill="#3f7cc0"/>
<circle cx="313.62" cy="61.49" r="1.3" fill="#3f7cc0"/>
<circle cx="312.48" cy="76.69" r="1.3" fill="#3f7cc0"/>
<circle cx="312.52" cy="62.42" r="1.3" fill="#3f7cc0"/>
<circle cx="313.6" cy="71.24" r="1.3" fill="#3f7cc0"/>
<circle cx="313.03" cy="92.81" r="1.3" fill="#3f7cc0"/>
<circle cx="313.03" cy="129.59" r="1.3" fill="#3f7cc0"/>
<circle cx="312.4" cy="121.72" r="1.3" fill="#3f7cc0"/>
<circle cx="313.48" cy="135.9" r="1.3" fill="#3f7cc0"/>
<circle cx="312.43" cy="66.59" r="1.3" fill="#3f7cc0"/>
<circle cx="312.62" cy="145.93" r="1.3" fill="#3f7cc0"/>
<circle cx="312.5" cy="135.35" r="1.3" fill="#3f7cc0"/>
<circle cx="312.88" cy="96.18" r="1.3" fill="#3f7cc0"/>
<circle cx="312.53" cy="109.63" r="1.3" fill="#3f7cc0"/>
<path d="M303,38 L310.5,38" fill="none" stroke="#2f5f9e" stroke-width="1.5" />
<path d="M313.85,81.63 L313.87,81.47 L313.89,81.29 L313.91,81.12 L313.93,80.94 L313.95,80.76 L313.97,80.57 L313.99,80.38 L314.01,80.19 L314.04,80 L314.06,79.8 L314.09,79.6 L314.12,79.4 L314.14,79.19 L314.17,78.98 L314.2,78.77 L314.23,78.56 L314.26,78.34 L314.3,78.12 L314.33,77.9 L314.37,77.67 L314.41,77.45 L314.45,77.22 L314.49,76.99 L314.53,76.76 L314.57,76.53 L314.62,76.29 L314.66,76.04 L314.71,75.79 L314.76,75.54 L314.82,75.28 L314.87,75.02 L314.93,74.76 L314.99,74.49 L315.05,74.22 L315.11,73.94 L315.18,73.67 L315.25,73.38 L315.32,73.1 L315.39,72.81 L315.47,72.52 L315.55,72.23 L315.63,71.94 L315.72,71.64 L315.81,71.34 L315.9,71.03 L316,70.71 L316.1,70.39 L316.2,70.06 L316.31,69.73 L316.42,69.4 L316.54,69.06 L316.66,68.73 L316.79,68.4 L316.92,68.07 L317.06,67.74 L317.2,67.42 L317.34,67.1 L317.5,66.78 L317.65,66.47 L317.82,66.15 L317.99,65.84 L318.17,65.53 L318.35,65.22 L318.54,64.9 L318.74,64.59 L318.95,64.27 L319.16,63.96 L319.39,63.64 L319.62,63.32 L319.86,63 L320.11,62.67 L320.37,62.34 L320.64,62 L320.92,61.66 L321.21,61.32 L321.51,60.97 L321.82,60.62 L322.15,60.27 L322.49,59.92 L322.84,59.57 L323.2,59.22 L323.58,58.87 L323.97,58.52 L324.38,58.18 L324.81,57.83 L325.25,57.49 L325.71,57.15 L326.18,56.81 L326.68,56.47 L327.19,56.12 L327.72,55.77 L328.28,55.43 L328.85,55.08 L329.45,54.74 L330.07,54.4 L330.72,54.07 L331.38,53.75 L332.08,53.44 L332.8,53.14 L333.55,52.85 L334.33,52.57 L335.14,52.31 L335.98,52.05 L336.86,51.81 L337.76,51.57 L338.7,51.35 L339.68,51.12 L340.7,50.9 L341.75,50.67 L342.85,50.45 L343.99,50.23 L345.17,50 L346.4,49.76 L347.68,49.51 L349,49.26 L350.38,49.01 L351.81,48.77 L353.3,48.53 L354.84,48.3 L356.44,48.09 L358.1,47.89 L359.83,47.71 L361.63,47.53 L363.49,47.36 L365.43,47.2 L367.44,47.04 L369.53,46.88 L371.7,46.73 L373.96,46.58 L376.3,46.44 L378.73,46.3 L381.26,46.17 L383.88,46.04 L386.61,45.92 L389.44,45.8 L392.38,45.68 L395.43,45.57 L398.6,45.46 L401.9,45.36 L405.32,45.25 L408.87,45.15 L412.57,45.05 L416.4,44.96 L420.38,44.86 L424.52,44.77 L428.82,44.67 L433.28,44.58 L437.91,44.5 L442.73,44.41 L447.73,44.33 L452.92,44.25 L458.32,44.17 L463.92,44.1 L469.74,44.03 L475.79,43.96 L482.07,43.89 L488.59,43.83 L495.36,43.78 L502.4,43.72" fill="none" stroke="#2b2b2b" stroke-width="1.6" />
<path d="M313.85,90.36 L313.87,90.17 L313.89,89.98 L313.91,89.79 L313.93,89.59 L313.95,89.39 L313.97,89.18 L313.99,88.97 L314.01,88.76 L314.04,88.54 L314.06,88.32 L314.09,88.1 L314.12,87.87 L314.14,87.65 L314.17,87.41 L314.2,87.18 L314.23,86.94 L314.26,86.7 L314.3,86.46 L314.33,86.21 L314.37,85.96 L314.41,85.71 L314.45,85.46 L314.49,85.2 L314.53,84.95 L314.57,84.68 L314.62,84.42 L314.66,84.14 L314.71,83.86 L314.76,83.57 L314.82,83.28 L314.87,82.99 L314.93,82.69 L314.99,82.39 L315.05,82.08 L315.11,81.77 L315.18,81.46 L315.25,81.15 L315.32,80.84 L315.39,80.52 L315.47,80.21 L315.55,79.9 L315.63,79.58 L315.72,79.27 L315.81,78.96 L315.9,78.64 L316,78.33 L316.1,78.01 L316.2,77.69 L316.31,77.36 L316.42,77.04 L316.54,76.71 L316.66,76.38 L316.79,76.05 L316.92,75.72 L317.06,75.39 L317.2,75.05 L317.34,74.71 L317.5,74.36 L317.65,74.02 L317.82,73.66 L317.99,73.31 L318.17,72.95 L318.35,72.59 L318.54,72.23 L318.74,71.88 L318.95,71.52 L319.16,71.16 L319.39,70.81 L319.62,70.46 L319.86,70.11 L320.11,69.76 L320.37,69.42 L320.64,69.08 L320.92,68.75 L321.21,68.41 L321.51,68.07 L321.82,67.74 L322.15,67.4 L322.49,67.07 L322.84,66.74 L323.2,66.4 L323.58,66.07 L323.97,65.74 L324.38,65.41 L324.81,65.09 L325.25,64.76 L325.71,64.43 L326.18,64.11 L326.68,63.79 L327.19,63.47 L327.72,63.14 L328.28,62.82 L328.85,62.51 L329.45,62.19 L330.07,61.87 L330.72,61.56 L331.38,61.25 L332.08,60.93 L332.8,60.62 L333.55,60.31 L334.33,60 L335.14,59.69 L335.98,59.38 L336.86,59.07 L337.76,58.77 L338.7,58.46 L339.68,58.16 L340.7,57.87 L341.75,57.58 L342.85,57.29 L343.99,57.02 L345.17,56.76 L346.4,56.51 L347.68,56.26 L349,56.03 L350.38,55.81 L351.81,55.58 L353.3,55.36 L354.84,55.14 L356.44,54.91 L358.1,54.67 L359.83,54.43 L361.63,54.18 L363.49,53.92 L365.43,53.66 L367.44,53.4 L369.53,53.14 L371.7,52.87 L373.96,52.6 L376.3,52.33 L378.73,52.06 L381.26,51.79 L383.88,51.52 L386.61,51.25 L389.44,50.99 L392.38,50.73 L395.43,50.47 L398.6,50.21 L401.9,49.96 L405.32,49.71 L408.87,49.45 L412.57,49.2 L416.4,48.95 L420.38,48.7 L424.52,48.46 L428.82,48.22 L433.28,47.99 L437.91,47.77 L442.73,47.57 L447.73,47.37 L452.92,47.17 L458.32,46.98 L463.92,46.79 L469.74,46.61 L475.79,46.43 L482.07,46.26 L488.59,46.1 L495.36,45.94 L502.4,45.79" fill="none" stroke="#2f5f9e" stroke-width="1.6" />
<rect x="298.5" y="18.4" width="203.5" height="150.4" fill="none" stroke="#4a4a4a" stroke-width="1.1"/>
<line x1="313.4" y1="168.8" x2="313.4" y2="166.3" stroke="#4a4a4a" stroke-width="0.8"/>
<line x1="313.4" y1="18.4" x2="313.4" y2="20.9" stroke="#4a4a4a" stroke-width="0.8"/>
<text x="313.4" y="178.6" font-size="7.8" text-anchor="middle" font-weight="bold" fill="#1a1a1a" stroke="#1a1a1a" stroke-width="0.28">0</text>
<line x1="351.2" y1="168.8" x2="351.2" y2="166.3" stroke="#4a4a4a" stroke-width="0.8"/>
<line x1="351.2" y1="18.4" x2="351.2" y2="20.9" stroke="#4a4a4a" stroke-width="0.8"/>
<text x="351.2" y="178.6" font-size="7.8" text-anchor="middle" font-weight="bold" fill="#1a1a1a" stroke="#1a1a1a" stroke-width="0.28">100</text>
<line x1="389" y1="168.8" x2="389" y2="166.3" stroke="#4a4a4a" stroke-width="0.8"/>
<line x1="389" y1="18.4" x2="389" y2="20.9" stroke="#4a4a4a" stroke-width="0.8"/>
<text x="389" y="178.6" font-size="7.8" text-anchor="middle" font-weight="bold" fill="#1a1a1a" stroke="#1a1a1a" stroke-width="0.28">200</text>
<line x1="426.8" y1="168.8" x2="426.8" y2="166.3" stroke="#4a4a4a" stroke-width="0.8"/>
<line x1="426.8" y1="18.4" x2="426.8" y2="20.9" stroke="#4a4a4a" stroke-width="0.8"/>
<text x="426.8" y="178.6" font-size="7.8" text-anchor="middle" font-weight="bold" fill="#1a1a1a" stroke="#1a1a1a" stroke-width="0.28">300</text>
<line x1="464.6" y1="168.8" x2="464.6" y2="166.3" stroke="#4a4a4a" stroke-width="0.8"/>
<line x1="464.6" y1="18.4" x2="464.6" y2="20.9" stroke="#4a4a4a" stroke-width="0.8"/>
<text x="464.6" y="178.6" font-size="7.8" text-anchor="middle" font-weight="bold" fill="#1a1a1a" stroke="#1a1a1a" stroke-width="0.28">400</text>
<line x1="502.4" y1="168.8" x2="502.4" y2="166.3" stroke="#4a4a4a" stroke-width="0.8"/>
<line x1="502.4" y1="18.4" x2="502.4" y2="20.9" stroke="#4a4a4a" stroke-width="0.8"/>
<text x="502.4" y="178.6" font-size="7.8" text-anchor="middle" font-weight="bold" fill="#1a1a1a" stroke="#1a1a1a" stroke-width="0.28">500</text>
<line x1="332.3" y1="168.8" x2="332.3" y2="167.3" stroke="#4a4a4a" stroke-width="0.7"/>
<line x1="332.3" y1="18.4" x2="332.3" y2="19.9" stroke="#4a4a4a" stroke-width="0.7"/>
<line x1="370.1" y1="168.8" x2="370.1" y2="167.3" stroke="#4a4a4a" stroke-width="0.7"/>
<line x1="370.1" y1="18.4" x2="370.1" y2="19.9" stroke="#4a4a4a" stroke-width="0.7"/>
<line x1="407.9" y1="168.8" x2="407.9" y2="167.3" stroke="#4a4a4a" stroke-width="0.7"/>
<line x1="407.9" y1="18.4" x2="407.9" y2="19.9" stroke="#4a4a4a" stroke-width="0.7"/>
<line x1="445.7" y1="168.8" x2="445.7" y2="167.3" stroke="#4a4a4a" stroke-width="0.7"/>
<line x1="445.7" y1="18.4" x2="445.7" y2="19.9" stroke="#4a4a4a" stroke-width="0.7"/>
<line x1="483.5" y1="168.8" x2="483.5" y2="167.3" stroke="#4a4a4a" stroke-width="0.7"/>
<line x1="483.5" y1="18.4" x2="483.5" y2="19.9" stroke="#4a4a4a" stroke-width="0.7"/>
<line x1="298.5" y1="38" x2="301.0" y2="38" stroke="#4a4a4a" stroke-width="0.8"/>
<line x1="502" y1="38" x2="499.5" y2="38" stroke="#4a4a4a" stroke-width="0.8"/>
<text x="295" y="40.65" font-size="7.8" text-anchor="end" font-weight="bold" fill="#1a1a1a" stroke="#1a1a1a" stroke-width="0.28">0.0</text>
<line x1="298.5" y1="59.82" x2="301.0" y2="59.82" stroke="#4a4a4a" stroke-width="0.8"/>
<line x1="502" y1="59.82" x2="499.5" y2="59.82" stroke="#4a4a4a" stroke-width="0.8"/>
<text x="295" y="62.47" font-size="7.8" text-anchor="end" font-weight="bold" fill="#1a1a1a" stroke="#1a1a1a" stroke-width="0.28">-0.2</text>
<line x1="298.5" y1="81.63" x2="301.0" y2="81.63" stroke="#4a4a4a" stroke-width="0.8"/>
<line x1="502" y1="81.63" x2="499.5" y2="81.63" stroke="#4a4a4a" stroke-width="0.8"/>
<text x="295" y="84.29" font-size="7.8" text-anchor="end" font-weight="bold" fill="#1a1a1a" stroke="#1a1a1a" stroke-width="0.28">-0.4</text>
<line x1="298.5" y1="103.45" x2="301.0" y2="103.45" stroke="#4a4a4a" stroke-width="0.8"/>
<line x1="502" y1="103.45" x2="499.5" y2="103.45" stroke="#4a4a4a" stroke-width="0.8"/>
<text x="295" y="106.1" font-size="7.8" text-anchor="end" font-weight="bold" fill="#1a1a1a" stroke="#1a1a1a" stroke-width="0.28">-0.6</text>
<line x1="298.5" y1="125.27" x2="301.0" y2="125.27" stroke="#4a4a4a" stroke-width="0.8"/>
<line x1="502" y1="125.27" x2="499.5" y2="125.27" stroke="#4a4a4a" stroke-width="0.8"/>
<text x="295" y="127.92" font-size="7.8" text-anchor="end" font-weight="bold" fill="#1a1a1a" stroke="#1a1a1a" stroke-width="0.28">-0.8</text>
<line x1="298.5" y1="147.08" x2="301.0" y2="147.08" stroke="#4a4a4a" stroke-width="0.8"/>
<line x1="502" y1="147.08" x2="499.5" y2="147.08" stroke="#4a4a4a" stroke-width="0.8"/>
<text x="295" y="149.74" font-size="7.8" text-anchor="end" font-weight="bold" fill="#1a1a1a" stroke="#1a1a1a" stroke-width="0.28">-1.0</text>
<line x1="298.5" y1="168.9" x2="301.0" y2="168.9" stroke="#4a4a4a" stroke-width="0.8"/>
<line x1="502" y1="168.9" x2="499.5" y2="168.9" stroke="#4a4a4a" stroke-width="0.8"/>
<text x="295" y="171.55" font-size="7.8" text-anchor="end" font-weight="bold" fill="#1a1a1a" stroke="#1a1a1a" stroke-width="0.28">-1.2</text>
<line x1="298.5" y1="27.09" x2="300.0" y2="27.09" stroke="#4a4a4a" stroke-width="0.7"/>
<line x1="502" y1="27.09" x2="500.5" y2="27.09" stroke="#4a4a4a" stroke-width="0.7"/>
<line x1="298.5" y1="48.91" x2="300.0" y2="48.91" stroke="#4a4a4a" stroke-width="0.7"/>
<line x1="502" y1="48.91" x2="500.5" y2="48.91" stroke="#4a4a4a" stroke-width="0.7"/>
<line x1="298.5" y1="70.72" x2="300.0" y2="70.72" stroke="#4a4a4a" stroke-width="0.7"/>
<line x1="502" y1="70.72" x2="500.5" y2="70.72" stroke="#4a4a4a" stroke-width="0.7"/>
<line x1="298.5" y1="92.54" x2="300.0" y2="92.54" stroke="#4a4a4a" stroke-width="0.7"/>
<line x1="502" y1="92.54" x2="500.5" y2="92.54" stroke="#4a4a4a" stroke-width="0.7"/>
<line x1="298.5" y1="114.36" x2="300.0" y2="114.36" stroke="#4a4a4a" stroke-width="0.7"/>
<line x1="502" y1="114.36" x2="500.5" y2="114.36" stroke="#4a4a4a" stroke-width="0.7"/>
<line x1="298.5" y1="136.18" x2="300.0" y2="136.18" stroke="#4a4a4a" stroke-width="0.7"/>
<line x1="502" y1="136.18" x2="500.5" y2="136.18" stroke="#4a4a4a" stroke-width="0.7"/>
<line x1="298.5" y1="157.99" x2="300.0" y2="157.99" stroke="#4a4a4a" stroke-width="0.7"/>
<line x1="502" y1="157.99" x2="500.5" y2="157.99" stroke="#4a4a4a" stroke-width="0.7"/>
<text x="369.8" y="192.2" font-size="9.3" text-anchor="start" font-weight="bold" fill="#1a1a1a" textLength="61.6" lengthAdjust="spacingAndGlyphs" stroke="#1a1a1a" stroke-width="0.32">Delay Time (ps)</text>
<text x="276.8" y="100" font-size="9.3" text-anchor="middle" font-weight="bold" fill="#1a1a1a" transform="rotate(-90 276.8 100)" textLength="66" lengthAdjust="spacingAndGlyphs" stroke="#1a1a1a" stroke-width="0.32">Normalized &#916;T/T</text>
<circle cx="420.6" cy="70.6" r="1.8" fill="#8a8a8a"/>
<circle cx="420.6" cy="81.1" r="1.8" fill="#5090d2"/>
<line x1="412.8" y1="90.8" x2="428.3" y2="90.8" stroke="#2b2b2b" stroke-width="1.6"/>
<line x1="412.8" y1="101.3" x2="428.3" y2="101.3" stroke="#2f5f9e" stroke-width="1.6"/>
<text x="429.3" y="73.6" font-size="8.3" font-weight="bold" fill="#1a1a1a" stroke="#1a1a1a" stroke-width="0.28" textLength="56.3" lengthAdjust="spacingAndGlyphs">3 GW/cm<tspan font-size="5" dy="-3">2</tspan><tspan dy="3"> (Data)</tspan></text>
<text x="429.3" y="84.1" font-size="8.3" font-weight="bold" fill="#1a1a1a" stroke="#1a1a1a" stroke-width="0.28" textLength="66" lengthAdjust="spacingAndGlyphs">0.75 GW/cm<tspan font-size="5" dy="-3">2</tspan><tspan dy="3"> (Data)</tspan></text>
<text x="429.3" y="93.8" font-size="8.3" font-weight="bold" fill="#1a1a1a" stroke="#1a1a1a" stroke-width="0.28" textLength="61.4" lengthAdjust="spacingAndGlyphs">3 GW/cm<tspan font-size="5" dy="-3">2</tspan><tspan dy="3"> (Model)</tspan></text>
<text x="429.3" y="104.3" font-size="8.3" font-weight="bold" fill="#1a1a1a" stroke="#1a1a1a" stroke-width="0.28" textLength="71.5" lengthAdjust="spacingAndGlyphs">0.75 GW/cm<tspan font-size="5" dy="-3">2</tspan><tspan dy="3"> (Model)</tspan></text>
<circle cx="339.6" cy="88.55" r="1.0" fill="#74a6db"/>
<circle cx="340.19" cy="88.45" r="1.0" fill="#74a6db"/>
<circle cx="340.79" cy="91.04" r="1.0" fill="#74a6db"/>
<circle cx="341.38" cy="83.24" r="1.0" fill="#74a6db"/>
<circle cx="341.98" cy="88.51" r="1.0" fill="#74a6db"/>
<circle cx="342.57" cy="84.02" r="1.0" fill="#74a6db"/>
<circle cx="343.17" cy="86.63" r="1.0" fill="#74a6db"/>
<circle cx="343.76" cy="91.82" r="1.0" fill="#74a6db"/>
<circle cx="344.36" cy="90.92" r="1.0" fill="#74a6db"/>
<circle cx="344.95" cy="88.31" r="1.0" fill="#74a6db"/>
<circle cx="345.55" cy="89.51" r="1.0" fill="#74a6db"/>
<circle cx="346.14" cy="89.54" r="1.0" fill="#74a6db"/>
<circle cx="346.74" cy="90.62" r="1.0" fill="#74a6db"/>
<circle cx="347.33" cy="95.49" r="1.0" fill="#74a6db"/>
<circle cx="347.93" cy="90.43" r="1.0" fill="#74a6db"/>
<circle cx="348.52" cy="96.81" r="1.0" fill="#74a6db"/>
<circle cx="349.11" cy="88.53" r="1.0" fill="#74a6db"/>
<circle cx="349.71" cy="92.05" r="1.0" fill="#74a6db"/>
<circle cx="350.3" cy="92.03" r="1.0" fill="#74a6db"/>
<circle cx="350.9" cy="90.47" r="1.0" fill="#74a6db"/>
<circle cx="351.49" cy="88.93" r="1.0" fill="#74a6db"/>
<circle cx="352.09" cy="94.41" r="1.0" fill="#74a6db"/>
<circle cx="352.68" cy="95.48" r="1.0" fill="#74a6db"/>
<circle cx="353.28" cy="93.37" r="1.0" fill="#74a6db"/>
<circle cx="353.87" cy="96.59" r="1.0" fill="#74a6db"/>
<circle cx="354.47" cy="93.29" r="1.0" fill="#74a6db"/>
<circle cx="355.06" cy="85.29" r="1.0" fill="#74a6db"/>
<circle cx="355.66" cy="93.98" r="1.0" fill="#74a6db"/>
<circle cx="356.25" cy="88.81" r="1.0" fill="#74a6db"/>
<circle cx="356.85" cy="95.64" r="1.0" fill="#74a6db"/>
<circle cx="357.44" cy="90.76" r="1.0" fill="#74a6db"/>
<circle cx="358.03" cy="93.31" r="1.0" fill="#74a6db"/>
<circle cx="358.63" cy="93.19" r="1.0" fill="#74a6db"/>
<circle cx="359.22" cy="92.04" r="1.0" fill="#74a6db"/>
<circle cx="359.82" cy="89.27" r="1.0" fill="#74a6db"/>
<circle cx="360.41" cy="95.48" r="1.0" fill="#74a6db"/>
<circle cx="361.01" cy="97.14" r="1.0" fill="#74a6db"/>
<circle cx="361.6" cy="102.31" r="1.0" fill="#74a6db"/>
<circle cx="362.2" cy="99.24" r="1.0" fill="#74a6db"/>
<circle cx="362.79" cy="104.04" r="1.0" fill="#74a6db"/>
<circle cx="363.39" cy="103" r="1.0" fill="#74a6db"/>
<circle cx="363.98" cy="108.44" r="1.0" fill="#74a6db"/>
<circle cx="364.58" cy="105.61" r="1.0" fill="#74a6db"/>
<circle cx="365.17" cy="120.6" r="1.0" fill="#74a6db"/>
<circle cx="365.77" cy="118.46" r="1.0" fill="#74a6db"/>
<circle cx="366.36" cy="118.08" r="1.0" fill="#74a6db"/>
<circle cx="366.96" cy="125.47" r="1.0" fill="#74a6db"/>
<circle cx="367.55" cy="130.35" r="1.0" fill="#74a6db"/>
<circle cx="368.14" cy="132.09" r="1.0" fill="#74a6db"/>
<circle cx="368.74" cy="138.95" r="1.0" fill="#74a6db"/>
<circle cx="369.33" cy="137.28" r="1.0" fill="#74a6db"/>
<circle cx="369.93" cy="132.73" r="1.0" fill="#74a6db"/>
<circle cx="370.52" cy="139.45" r="1.0" fill="#74a6db"/>
<circle cx="371.12" cy="148.88" r="1.0" fill="#74a6db"/>
<circle cx="371.71" cy="149.9" r="1.0" fill="#74a6db"/>
<circle cx="372.31" cy="149.46" r="1.0" fill="#74a6db"/>
<circle cx="372.9" cy="144.92" r="1.0" fill="#74a6db"/>
<circle cx="373.5" cy="149.47" r="1.0" fill="#74a6db"/>
<circle cx="374.09" cy="147" r="1.0" fill="#74a6db"/>
<circle cx="374.69" cy="139.79" r="1.0" fill="#74a6db"/>
<circle cx="375.28" cy="137.83" r="1.0" fill="#74a6db"/>
<circle cx="375.88" cy="139.96" r="1.0" fill="#74a6db"/>
<circle cx="376.47" cy="140.65" r="1.0" fill="#74a6db"/>
<circle cx="377.06" cy="140.47" r="1.0" fill="#74a6db"/>
<circle cx="377.66" cy="136.28" r="1.0" fill="#74a6db"/>
<circle cx="378.25" cy="139.8" r="1.0" fill="#74a6db"/>
<circle cx="378.85" cy="128.97" r="1.0" fill="#74a6db"/>
<circle cx="379.44" cy="132.16" r="1.0" fill="#74a6db"/>
<circle cx="380.04" cy="127.45" r="1.0" fill="#74a6db"/>
<circle cx="380.63" cy="121.93" r="1.0" fill="#74a6db"/>
<circle cx="381.23" cy="123.12" r="1.0" fill="#74a6db"/>
<circle cx="381.82" cy="129.59" r="1.0" fill="#74a6db"/>
<circle cx="382.42" cy="122.22" r="1.0" fill="#74a6db"/>
<circle cx="383.01" cy="120.43" r="1.0" fill="#74a6db"/>
<circle cx="383.61" cy="125.71" r="1.0" fill="#74a6db"/>
<circle cx="384.2" cy="125.61" r="1.0" fill="#74a6db"/>
<circle cx="384.8" cy="122.19" r="1.0" fill="#74a6db"/>
<circle cx="385.39" cy="129.36" r="1.0" fill="#74a6db"/>
<circle cx="385.98" cy="113" r="1.0" fill="#74a6db"/>
<circle cx="386.58" cy="132.23" r="1.0" fill="#74a6db"/>
<circle cx="387.17" cy="125.02" r="1.0" fill="#74a6db"/>
<circle cx="387.77" cy="120.2" r="1.0" fill="#74a6db"/>
<circle cx="388.36" cy="119.48" r="1.0" fill="#74a6db"/>
<circle cx="388.96" cy="116.99" r="1.0" fill="#74a6db"/>
<circle cx="389.55" cy="116.01" r="1.0" fill="#74a6db"/>
<circle cx="390.15" cy="118.06" r="1.0" fill="#74a6db"/>
<circle cx="390.74" cy="110.76" r="1.0" fill="#74a6db"/>
<circle cx="391.34" cy="127.14" r="1.0" fill="#74a6db"/>
<circle cx="391.93" cy="115.85" r="1.0" fill="#74a6db"/>
<circle cx="392.53" cy="119.17" r="1.0" fill="#74a6db"/>
<circle cx="393.12" cy="114.52" r="1.0" fill="#74a6db"/>
<circle cx="393.72" cy="113.77" r="1.0" fill="#74a6db"/>
<circle cx="394.31" cy="119.29" r="1.0" fill="#74a6db"/>
<circle cx="394.9" cy="117.64" r="1.0" fill="#74a6db"/>
<circle cx="395.5" cy="110.06" r="1.0" fill="#74a6db"/>
<circle cx="396.09" cy="112.09" r="1.0" fill="#74a6db"/>
<circle cx="396.69" cy="117.14" r="1.0" fill="#74a6db"/>
<circle cx="397.28" cy="103.02" r="1.0" fill="#74a6db"/>
<circle cx="397.88" cy="101.44" r="1.0" fill="#74a6db"/>
<circle cx="398.47" cy="120.55" r="1.0" fill="#74a6db"/>
<circle cx="399.07" cy="111.35" r="1.0" fill="#74a6db"/>
<circle cx="399.66" cy="99.9" r="1.0" fill="#74a6db"/>
<circle cx="400.26" cy="108.57" r="1.0" fill="#74a6db"/>
<circle cx="400.85" cy="111.3" r="1.0" fill="#74a6db"/>
<circle cx="401.45" cy="113.36" r="1.0" fill="#74a6db"/>
<circle cx="402.04" cy="114.93" r="1.0" fill="#74a6db"/>
<circle cx="402.64" cy="113.13" r="1.0" fill="#74a6db"/>
<circle cx="403.23" cy="114.75" r="1.0" fill="#74a6db"/>
<circle cx="403.82" cy="108.01" r="1.0" fill="#74a6db"/>
<circle cx="404.42" cy="113.75" r="1.0" fill="#74a6db"/>
<circle cx="405.01" cy="113.88" r="1.0" fill="#74a6db"/>
<circle cx="405.61" cy="117.68" r="1.0" fill="#74a6db"/>
<circle cx="406.2" cy="111.7" r="1.0" fill="#74a6db"/>
<circle cx="406.8" cy="115.94" r="1.0" fill="#74a6db"/>
<circle cx="407.39" cy="112.21" r="1.0" fill="#74a6db"/>
<circle cx="407.99" cy="105.89" r="1.0" fill="#74a6db"/>
<circle cx="408.58" cy="109.28" r="1.0" fill="#74a6db"/>
<circle cx="409.18" cy="108.51" r="1.0" fill="#74a6db"/>
<circle cx="409.77" cy="109.21" r="1.0" fill="#74a6db"/>
<circle cx="410.37" cy="110.67" r="1.0" fill="#74a6db"/>
<circle cx="410.96" cy="111.57" r="1.0" fill="#74a6db"/>
<circle cx="411.56" cy="112.44" r="1.0" fill="#74a6db"/>
<circle cx="412.15" cy="106.94" r="1.0" fill="#74a6db"/>
<circle cx="412.74" cy="116.32" r="1.0" fill="#74a6db"/>
<circle cx="413.34" cy="103.88" r="1.0" fill="#74a6db"/>
<circle cx="413.93" cy="110.52" r="1.0" fill="#74a6db"/>
<circle cx="414.53" cy="114.49" r="1.0" fill="#74a6db"/>
<circle cx="415.12" cy="113.12" r="1.0" fill="#74a6db"/>
<circle cx="415.72" cy="114.05" r="1.0" fill="#74a6db"/>
<circle cx="416.31" cy="109.74" r="1.0" fill="#74a6db"/>
<circle cx="416.91" cy="114.2" r="1.0" fill="#74a6db"/>
<circle cx="417.5" cy="104.66" r="1.0" fill="#74a6db"/>
<circle cx="418.1" cy="114.47" r="1.0" fill="#74a6db"/>
<circle cx="418.69" cy="122.07" r="1.0" fill="#74a6db"/>
<circle cx="419.29" cy="114.16" r="1.0" fill="#74a6db"/>
<circle cx="419.88" cy="120.68" r="1.0" fill="#74a6db"/>
<circle cx="420.48" cy="110.59" r="1.0" fill="#74a6db"/>
<circle cx="421.07" cy="104.95" r="1.0" fill="#74a6db"/>
<circle cx="421.67" cy="107.03" r="1.0" fill="#74a6db"/>
<circle cx="422.26" cy="117.17" r="1.0" fill="#74a6db"/>
<circle cx="422.85" cy="114.21" r="1.0" fill="#74a6db"/>
<circle cx="423.45" cy="101.2" r="1.0" fill="#74a6db"/>
<circle cx="424.04" cy="108.65" r="1.0" fill="#74a6db"/>
<circle cx="424.64" cy="110.25" r="1.0" fill="#74a6db"/>
<circle cx="425.23" cy="104.85" r="1.0" fill="#74a6db"/>
<circle cx="425.83" cy="97.7" r="1.0" fill="#74a6db"/>
<circle cx="426.42" cy="103.6" r="1.0" fill="#74a6db"/>
<circle cx="427.02" cy="109.51" r="1.0" fill="#74a6db"/>
<circle cx="427.61" cy="108.4" r="1.0" fill="#74a6db"/>
<circle cx="428.21" cy="107.04" r="1.0" fill="#74a6db"/>
<circle cx="428.8" cy="113.33" r="1.0" fill="#74a6db"/>
<circle cx="429.4" cy="115.6" r="1.0" fill="#74a6db"/>
<circle cx="429.99" cy="109.91" r="1.0" fill="#74a6db"/>
<circle cx="430.59" cy="115.01" r="1.0" fill="#74a6db"/>
<circle cx="431.18" cy="110.47" r="1.0" fill="#74a6db"/>
<circle cx="431.77" cy="109.66" r="1.0" fill="#74a6db"/>
<circle cx="432.37" cy="98.17" r="1.0" fill="#74a6db"/>
<circle cx="432.96" cy="114.49" r="1.0" fill="#74a6db"/>
<circle cx="433.56" cy="110.76" r="1.0" fill="#74a6db"/>
<circle cx="434.15" cy="110.97" r="1.0" fill="#74a6db"/>
<circle cx="434.75" cy="107.89" r="1.0" fill="#74a6db"/>
<circle cx="435.34" cy="104.77" r="1.0" fill="#74a6db"/>
<circle cx="435.94" cy="112.63" r="1.0" fill="#74a6db"/>
<circle cx="436.53" cy="114.31" r="1.0" fill="#74a6db"/>
<circle cx="437.13" cy="118.5" r="1.0" fill="#74a6db"/>
<circle cx="437.72" cy="114.84" r="1.0" fill="#74a6db"/>
<circle cx="438.32" cy="107.36" r="1.0" fill="#74a6db"/>
<circle cx="438.91" cy="109.86" r="1.0" fill="#74a6db"/>
<circle cx="439.51" cy="115.29" r="1.0" fill="#74a6db"/>
<circle cx="440.1" cy="112" r="1.0" fill="#74a6db"/>
<path d="M339.6,89.7 L340.11,89.7 L340.61,89.7 L341.12,89.7 L341.62,89.7 L342.13,89.7 L342.63,89.7 L343.14,89.7 L343.64,89.7 L344.15,89.7 L344.65,89.7 L345.16,89.7 L345.66,89.7 L346.17,89.7 L346.67,89.7 L347.18,89.71 L347.68,89.71 L348.19,89.71 L348.69,89.72 L349.2,89.72 L349.7,89.73 L350.21,89.74 L350.71,89.76 L351.22,89.78 L351.72,89.81 L352.23,89.85 L352.73,89.9 L353.24,89.96 L353.74,90.04 L354.25,90.15 L354.75,90.28 L355.26,90.44 L355.76,90.64 L356.27,90.9 L356.77,91.2 L357.28,91.58 L357.78,92.03 L358.29,92.57 L358.79,93.21 L359.3,93.97 L359.8,94.85 L360.31,95.87 L360.81,97.04 L361.32,98.37 L361.82,99.87 L362.33,101.55 L362.83,103.4 L363.34,105.44 L363.84,107.66 L364.35,110.04 L364.85,112.58 L365.36,115.26 L365.86,118.05 L366.37,120.93 L366.87,123.86 L367.38,126.81 L367.88,129.74 L368.39,132.6 L368.89,135.36 L369.4,137.97 L369.9,140.4 L370.41,142.63 L370.91,144.61 L371.42,146.29 L371.92,147.58 L372.43,148.26 L372.93,148.09 L373.44,147.02 L373.94,145.34 L374.45,143.48 L374.95,141.69 L375.46,140.03 L375.96,138.51 L376.47,137.09 L376.97,135.75 L377.48,134.49 L377.98,133.29 L378.49,132.15 L378.99,131.06 L379.5,130.03 L380,129.05 L380.51,128.12 L381.01,127.24 L381.52,126.39 L382.02,125.59 L382.53,124.83 L383.03,124.11 L383.54,123.42 L384.04,122.76 L384.55,122.14 L385.05,121.55 L385.56,120.98 L386.06,120.45 L386.57,119.94 L387.07,119.45 L387.58,118.99 L388.08,118.55 L388.59,118.13 L389.09,117.74 L389.6,117.36 L390.1,117 L390.61,116.66 L391.11,116.34 L391.62,116.03 L392.12,115.74 L392.63,115.46 L393.13,115.19 L393.64,114.94 L394.14,114.7 L394.65,114.47 L395.15,114.25 L395.66,114.05 L396.16,113.85 L396.67,113.66 L397.17,113.49 L397.68,113.32 L398.18,113.16 L398.69,113.01 L399.19,112.86 L399.7,112.72 L400.2,112.59 L400.71,112.47 L401.21,112.35 L401.72,112.23 L402.22,112.13 L402.73,112.03 L403.23,111.93 L403.74,111.84 L404.24,111.75 L404.75,111.66 L405.25,111.58 L405.76,111.51 L406.26,111.44 L406.77,111.37 L407.27,111.3 L407.78,111.24 L408.28,111.18 L408.79,111.13 L409.29,111.07 L409.8,111.02 L410.3,110.98 L410.81,110.93 L411.31,110.89 L411.82,110.85 L412.32,110.81 L412.83,110.77 L413.33,110.73 L413.84,110.7 L414.34,110.67 L414.85,110.64 L415.35,110.61 L415.86,110.58 L416.36,110.55 L416.87,110.53 L417.37,110.51 L417.88,110.48 L418.38,110.46 L418.89,110.44 L419.39,110.42 L419.9,110.4 L420.4,110.39 L420.91,110.37 L421.41,110.35 L421.92,110.34 L422.42,110.32 L422.93,110.31 L423.43,110.3 L423.94,110.28 L424.44,110.27 L424.95,110.26 L425.45,110.25 L425.96,110.24 L426.46,110.23 L426.97,110.22 L427.47,110.21 L427.98,110.2 L428.48,110.2 L428.99,110.19 L429.49,110.18 L430,110.18 L430.5,110.17 L431.01,110.16 L431.51,110.16 L432.02,110.15 L432.52,110.15 L433.03,110.14 L433.53,110.14 L434.04,110.13 L434.54,110.13 L435.05,110.12 L435.55,110.12 L436.06,110.12 L436.56,110.11 L437.07,110.11 L437.57,110.11 L438.08,110.1 L438.58,110.1 L439.09,110.1 L439.59,110.09 L440.1,110.09" fill="none" stroke="#33639f" stroke-width="1.1" />
<path d="M340.0,81 L340.0,153.9 L440.5,153.9" fill="none" stroke="#4a4a4a" stroke-width="0.9"/>
<line x1="339.6" y1="153.9" x2="339.6" y2="151.9" stroke="#4a4a4a" stroke-width="0.8"/>
<text x="339.6" y="160.5" font-size="6.2" text-anchor="middle" font-weight="bold" fill="#1a1a1a" stroke="#1a1a1a" stroke-width="0.28">-2</text>
<line x1="373.1" y1="153.9" x2="373.1" y2="151.9" stroke="#4a4a4a" stroke-width="0.8"/>
<text x="373.1" y="160.5" font-size="6.2" text-anchor="middle" font-weight="bold" fill="#1a1a1a" stroke="#1a1a1a" stroke-width="0.28">0</text>
<line x1="406.6" y1="153.9" x2="406.6" y2="151.9" stroke="#4a4a4a" stroke-width="0.8"/>
<text x="406.6" y="160.5" font-size="6.2" text-anchor="middle" font-weight="bold" fill="#1a1a1a" stroke="#1a1a1a" stroke-width="0.28">2</text>
<line x1="440.1" y1="153.9" x2="440.1" y2="151.9" stroke="#4a4a4a" stroke-width="0.8"/>
<text x="440.1" y="160.5" font-size="6.2" text-anchor="middle" font-weight="bold" fill="#1a1a1a" stroke="#1a1a1a" stroke-width="0.28">4</text>
<line x1="356.35" y1="153.9" x2="356.35" y2="152.70000000000002" stroke="#4a4a4a" stroke-width="0.7"/>
<line x1="389.85" y1="153.9" x2="389.85" y2="152.70000000000002" stroke="#4a4a4a" stroke-width="0.7"/>
<line x1="423.35" y1="153.9" x2="423.35" y2="152.70000000000002" stroke="#4a4a4a" stroke-width="0.7"/>
<line x1="340.0" y1="89.7" x2="342.0" y2="89.7" stroke="#4a4a4a" stroke-width="0.8"/>
<text x="337.3" y="91.81" font-size="6.2" text-anchor="end" font-weight="bold" fill="#1a1a1a" stroke="#1a1a1a" stroke-width="0.28">0.0</text>
<line x1="340.0" y1="112.95" x2="342.0" y2="112.95" stroke="#4a4a4a" stroke-width="0.8"/>
<text x="337.3" y="115.06" font-size="6.2" text-anchor="end" font-weight="bold" fill="#1a1a1a" stroke="#1a1a1a" stroke-width="0.28">-0.4</text>
<line x1="340.0" y1="136.2" x2="342.0" y2="136.2" stroke="#4a4a4a" stroke-width="0.8"/>
<text x="337.3" y="138.31" font-size="6.2" text-anchor="end" font-weight="bold" fill="#1a1a1a" stroke="#1a1a1a" stroke-width="0.28">-0.8</text>
<line x1="340.0" y1="101.33" x2="341.2" y2="101.33" stroke="#4a4a4a" stroke-width="0.7"/>
<line x1="340.0" y1="124.57" x2="341.2" y2="124.57" stroke="#4a4a4a" stroke-width="0.7"/>
<text x="369" y="166.5" font-size="6.3" text-anchor="start" font-weight="bold" fill="#1a1a1a" textLength="42.5" lengthAdjust="spacingAndGlyphs" stroke="#1a1a1a" stroke-width="0.32">Delay Time (ps)</text>
<text x="328.7" y="120.5" font-size="6.3" text-anchor="middle" font-weight="bold" fill="#1a1a1a" transform="rotate(-90 328.7 120.5)" textLength="46.5" lengthAdjust="spacingAndGlyphs" stroke="#1a1a1a" stroke-width="0.32">Normalized &#916;T/T</text>
<text x="16.8" y="204.3" font-size="17" text-anchor="start" font-weight="normal" fill="#111" textLength="17.6" lengthAdjust="spacingAndGlyphs" stroke="#111" stroke-width="0.55">(c)</text>
<path d="M55.5,217.38 L55.55,216.47 L55.55,217.32 L55.55,218.16 L55.56,219 L55.56,219.84 L55.56,220.67 L55.56,221.49 L55.56,222.31 L55.57,223.12 L55.57,223.93 L55.57,224.73 L55.57,225.53 L55.58,226.33 L55.58,227.11 L55.58,227.9 L55.59,228.67 L55.59,229.45 L55.59,230.21 L55.6,230.97 L55.6,231.73 L55.6,232.48 L55.61,233.23 L55.61,233.97 L55.62,234.7 L55.62,235.43 L55.63,236.16 L55.63,236.88 L55.64,237.59 L55.64,238.3 L55.65,239 L55.65,239.7 L55.66,240.39 L55.66,241.08 L55.67,241.76 L55.68,242.44 L55.68,243.11 L55.69,243.78 L55.7,244.44 L55.71,245.09 L55.71,245.74 L55.72,246.38 L55.73,247.02 L55.74,247.65 L55.75,248.28 L55.76,248.9 L55.77,249.52 L55.78,250.13 L55.79,250.73 L55.8,251.33 L55.81,251.92 L55.82,252.51 L55.84,253.09 L55.85,253.67 L55.86,254.24 L55.88,254.81 L55.89,255.37 L55.91,255.92 L55.92,256.47 L55.94,257.01 L55.96,257.55 L55.97,258.08 L55.99,258.61 L56.01,259.12 L56.03,259.64 L56.05,260.15 L56.07,260.65 L56.09,261.15 L56.12,261.64 L56.14,262.12 L56.16,262.6 L56.19,263.06 L56.22,263.52 L56.24,263.96 L56.27,264.4 L56.3,264.82 L56.33,265.24 L56.36,265.65 L56.4,266.05 L56.43,266.45 L56.47,266.83 L56.51,267.22 L56.54,267.59 L56.58,267.96 L56.63,268.33 L56.67,268.7 L56.71,269.06 L56.76,269.42 L56.81,269.77 L56.86,270.13 L56.91,270.49 L56.97,270.84 L57.02,271.2 L57.08,271.55 L57.14,271.91 L57.2,272.27 L57.27,272.63 L57.34,273 L57.41,273.37 L57.48,273.74 L57.56,274.12 L57.64,274.51 L57.72,274.9 L57.8,275.3 L57.89,275.7 L57.98,276.12 L58.08,276.54 L58.18,276.97 L58.28,277.4 L58.39,277.83 L58.5,278.27 L58.61,278.7 L58.73,279.14 L58.86,279.57 L58.99,280.01 L59.12,280.46 L59.26,280.9 L59.4,281.35 L59.55,281.8 L59.71,282.25 L59.87,282.71 L60.04,283.17 L60.21,283.64 L60.39,284.11 L60.58,284.59 L60.78,285.07 L60.98,285.56 L61.19,286.05 L61.41,286.56 L61.64,287.06 L61.87,287.58 L62.12,288.1 L62.37,288.64 L62.64,289.18 L62.91,289.72 L63.19,290.28 L63.49,290.85 L63.8,291.42 L64.12,292.02 L64.45,292.66 L64.79,293.34 L65.15,294.05 L65.52,294.78 L65.9,295.52 L66.3,296.28 L66.72,297.04 L67.15,297.8 L67.59,298.54 L68.06,299.28 L68.54,299.99 L69.04,300.67 L69.56,301.32 L70.1,301.93 L70.66,302.5 L71.25,303.07 L71.85,303.63 L72.48,304.18 L73.13,304.73 L73.81,305.27 L74.51,305.8 L75.24,306.32 L76,306.82 L76.79,307.31 L77.61,307.79 L78.46,308.25 L79.34,308.69 L80.25,309.12 L81.2,309.52 L82.19,309.9 L83.22,310.26 L84.28,310.6 L85.39,310.91 L86.53,311.22 L87.73,311.51 L88.96,311.8 L90.25,312.07 L91.59,312.34 L92.97,312.6 L94.41,312.86 L95.91,313.1 L97.46,313.34 L99.07,313.58 L100.74,313.8 L102.48,314.03 L104.29,314.24 L106.16,314.45 L108.11,314.66 L110.13,314.86 L112.22,315.06 L114.4,315.25 L116.67,315.44 L119.02,315.62 L121.46,315.8 L123.99,315.98 L126.62,316.16 L129.35,316.34 L132.19,316.51 L135.13,316.68 L138.19,316.85 L141.37,317.02 L144.67,317.18 L148.09,317.35 L151.65,317.51 L155.34,317.67 L159.18,317.82 L163.16,317.97 L167.3,318.12 L171.59,318.27 L176.05,318.41 L180.68,318.55 L185.49,318.69 L190.48,318.83 L195.67,318.96 L201.05,319.08 L206.64,319.21 L212.45,319.33 L218.48,319.44 L224.74,319.55 L231.24,319.66 L237.99,319.77 L245,319.87" fill="none" stroke="#e0242c" stroke-width="1.7" stroke-dasharray="4,2.6" />
<path d="M52.85,328.1 L55.5,328.1 L55.5,264.97 L55.8,328.1 L245,328.1" fill="none" stroke="#2f5c9c" stroke-width="1.8" />
<rect x="40" y="200.4" width="205.0" height="146.29999999999998" fill="none" stroke="#4a4a4a" stroke-width="1.1"/>
<line x1="55.5" y1="346.7" x2="55.5" y2="344.2" stroke="#4a4a4a" stroke-width="0.8"/>
<line x1="55.5" y1="200.4" x2="55.5" y2="202.9" stroke="#4a4a4a" stroke-width="0.8"/>
<text x="55.5" y="356.7" font-size="8.3" text-anchor="middle" font-weight="bold" fill="#1a1a1a" stroke="#1a1a1a" stroke-width="0.28">0</text>
<line x1="93.4" y1="346.7" x2="93.4" y2="344.2" stroke="#4a4a4a" stroke-width="0.8"/>
<line x1="93.4" y1="200.4" x2="93.4" y2="202.9" stroke="#4a4a4a" stroke-width="0.8"/>
<text x="93.4" y="356.7" font-size="8.3" text-anchor="middle" font-weight="bold" fill="#1a1a1a" stroke="#1a1a1a" stroke-width="0.28">100</text>
<line x1="131.3" y1="346.7" x2="131.3" y2="344.2" stroke="#4a4a4a" stroke-width="0.8"/>
<line x1="131.3" y1="200.4" x2="131.3" y2="202.9" stroke="#4a4a4a" stroke-width="0.8"/>
<text x="131.3" y="356.7" font-size="8.3" text-anchor="middle" font-weight="bold" fill="#1a1a1a" stroke="#1a1a1a" stroke-width="0.28">200</text>
<line x1="169.2" y1="346.7" x2="169.2" y2="344.2" stroke="#4a4a4a" stroke-width="0.8"/>
<line x1="169.2" y1="200.4" x2="169.2" y2="202.9" stroke="#4a4a4a" stroke-width="0.8"/>
<text x="169.2" y="356.7" font-size="8.3" text-anchor="middle" font-weight="bold" fill="#1a1a1a" stroke="#1a1a1a" stroke-width="0.28">300</text>
<line x1="207.1" y1="346.7" x2="207.1" y2="344.2" stroke="#4a4a4a" stroke-width="0.8"/>
<line x1="207.1" y1="200.4" x2="207.1" y2="202.9" stroke="#4a4a4a" stroke-width="0.8"/>
<text x="207.1" y="356.7" font-size="8.3" text-anchor="middle" font-weight="bold" fill="#1a1a1a" stroke="#1a1a1a" stroke-width="0.28">400</text>
<line x1="245" y1="346.7" x2="245" y2="344.2" stroke="#4a4a4a" stroke-width="0.8"/>
<line x1="245" y1="200.4" x2="245" y2="202.9" stroke="#4a4a4a" stroke-width="0.8"/>
<text x="245" y="356.7" font-size="8.3" text-anchor="middle" font-weight="bold" fill="#1a1a1a" stroke="#1a1a1a" stroke-width="0.28">500</text>
<line x1="74.45" y1="346.7" x2="74.45" y2="345.2" stroke="#4a4a4a" stroke-width="0.7"/>
<line x1="74.45" y1="200.4" x2="74.45" y2="201.9" stroke="#4a4a4a" stroke-width="0.7"/>
<line x1="112.35" y1="346.7" x2="112.35" y2="345.2" stroke="#4a4a4a" stroke-width="0.7"/>
<line x1="112.35" y1="200.4" x2="112.35" y2="201.9" stroke="#4a4a4a" stroke-width="0.7"/>
<line x1="150.25" y1="346.7" x2="150.25" y2="345.2" stroke="#4a4a4a" stroke-width="0.7"/>
<line x1="150.25" y1="200.4" x2="150.25" y2="201.9" stroke="#4a4a4a" stroke-width="0.7"/>
<line x1="188.15" y1="346.7" x2="188.15" y2="345.2" stroke="#4a4a4a" stroke-width="0.7"/>
<line x1="188.15" y1="200.4" x2="188.15" y2="201.9" stroke="#4a4a4a" stroke-width="0.7"/>
<line x1="226.05" y1="346.7" x2="226.05" y2="345.2" stroke="#4a4a4a" stroke-width="0.7"/>
<line x1="226.05" y1="200.4" x2="226.05" y2="201.9" stroke="#4a4a4a" stroke-width="0.7"/>
<line x1="40" y1="328.1" x2="42.5" y2="328.1" stroke="#4a4a4a" stroke-width="0.8"/>
<line x1="245.0" y1="328.1" x2="242.5" y2="328.1" stroke="#4a4a4a" stroke-width="0.8"/>
<text x="36" y="330.92" font-size="8.3" text-anchor="end" font-weight="bold" fill="#1a1a1a" stroke="#1a1a1a" stroke-width="0.28">0</text>
<line x1="40" y1="291.5" x2="42.5" y2="291.5" stroke="#4a4a4a" stroke-width="0.8"/>
<line x1="245.0" y1="291.5" x2="242.5" y2="291.5" stroke="#4a4a4a" stroke-width="0.8"/>
<text x="36" y="294.32" font-size="8.3" text-anchor="end" font-weight="bold" fill="#1a1a1a" stroke="#1a1a1a" stroke-width="0.28">2</text>
<line x1="40" y1="254.9" x2="42.5" y2="254.9" stroke="#4a4a4a" stroke-width="0.8"/>
<line x1="245.0" y1="254.9" x2="242.5" y2="254.9" stroke="#4a4a4a" stroke-width="0.8"/>
<text x="36" y="257.72" font-size="8.3" text-anchor="end" font-weight="bold" fill="#1a1a1a" stroke="#1a1a1a" stroke-width="0.28">4</text>
<line x1="40" y1="218.3" x2="42.5" y2="218.3" stroke="#4a4a4a" stroke-width="0.8"/>
<line x1="245.0" y1="218.3" x2="242.5" y2="218.3" stroke="#4a4a4a" stroke-width="0.8"/>
<text x="36" y="221.12" font-size="8.3" text-anchor="end" font-weight="bold" fill="#1a1a1a" stroke="#1a1a1a" stroke-width="0.28">6</text>
<line x1="40" y1="309.8" x2="41.5" y2="309.8" stroke="#4a4a4a" stroke-width="0.7"/>
<line x1="245.0" y1="309.8" x2="243.5" y2="309.8" stroke="#4a4a4a" stroke-width="0.7"/>
<line x1="40" y1="273.2" x2="41.5" y2="273.2" stroke="#4a4a4a" stroke-width="0.7"/>
<line x1="245.0" y1="273.2" x2="243.5" y2="273.2" stroke="#4a4a4a" stroke-width="0.7"/>
<line x1="40" y1="236.6" x2="41.5" y2="236.6" stroke="#4a4a4a" stroke-width="0.7"/>
<line x1="245.0" y1="236.6" x2="243.5" y2="236.6" stroke="#4a4a4a" stroke-width="0.7"/>
<line x1="40" y1="346.4" x2="41.5" y2="346.4" stroke="#4a4a4a" stroke-width="0.7"/>
<line x1="245.0" y1="346.4" x2="243.5" y2="346.4" stroke="#4a4a4a" stroke-width="0.7"/>
<text x="40.5" y="197.2" font-size="7.4" font-weight="bold" fill="#1a1a1a" stroke="#1a1a1a" stroke-width="0.28" textLength="18" lengthAdjust="spacingAndGlyphs">&#215;10<tspan font-size="4.8" dy="-3">14</tspan></text>
<text x="109.6" y="373.2" font-size="10" text-anchor="start" font-weight="bold" fill="#1a1a1a" textLength="66.8" lengthAdjust="spacingAndGlyphs" stroke="#1a1a1a" stroke-width="0.32">Delay Time (ps)</text>
<text transform="translate(18.2,283.3) rotate(-90)" font-size="9.8" font-weight="bold" text-anchor="middle" fill="#1a1a1a" stroke="#1a1a1a" stroke-width="0.32" textLength="96" lengthAdjust="spacingAndGlyphs">Carrier Density (cm<tspan font-size="6.2" dy="-3.6">-2</tspan><tspan dy="3.6">)</tspan></text>
<path d="M108.5,284.2 L108.89,284.2 L109.28,284.2 L109.68,284.2 L110.07,284.2 L110.46,284.2 L110.85,284.2 L111.24,284.2 L111.64,284.2 L112.03,284.2 L112.42,284.2 L112.81,284.2 L113.2,284.2 L113.6,284.2 L113.99,284.2 L114.38,284.2 L114.77,284.2 L115.16,284.2 L115.56,284.2 L115.95,284.2 L116.34,284.2 L116.73,284.2 L117.13,284.2 L117.52,284.2 L117.91,284.2 L118.3,284.2 L118.69,284.2 L119.09,284.2 L119.48,284.18 L119.87,284.13 L120.26,284.06 L120.65,283.97 L121.05,283.86 L121.44,283.74 L121.83,283.6 L122.22,283.44 L122.61,283.27 L123.01,283.07 L123.4,282.72 L123.79,282.21 L124.18,281.55 L124.57,280.77 L124.97,279.88 L125.36,278.89 L125.75,277.83 L126.14,276.71 L126.53,275.54 L126.93,274.3 L127.32,272.77 L127.71,270.94 L128.1,268.87 L128.49,266.62 L128.89,264.23 L129.28,261.76 L129.67,259.27 L130.06,256.79 L130.46,254.4 L130.85,252.09 L131.24,249.68 L131.63,247.17 L132.02,244.6 L132.42,242.02 L132.81,239.46 L133.2,236.98 L133.59,234.62 L133.98,232.42 L134.38,230.42 L134.77,228.59 L135.16,226.63 L135.55,224.72 L135.94,223.06 L136.34,221.87 L136.73,221.37 L137.12,221.52 L137.51,221.99 L137.9,222.69 L138.3,223.55 L138.69,224.49 L139.08,225.42 L139.47,226.46 L139.86,227.74 L140.26,229.17 L140.65,230.66 L141.04,232.11 L141.43,233.43 L141.82,234.54 L142.22,235.57 L142.61,236.58 L143,237.56 L143.39,238.48 L143.79,239.32 L144.18,240.08 L144.57,240.72 L144.96,241.24 L145.35,241.67 L145.75,242.07 L146.14,242.44 L146.53,242.79 L146.92,243.11 L147.31,243.41 L147.71,243.69 L148.1,243.95 L148.49,244.19 L148.88,244.42 L149.27,244.62 L149.67,244.82 L150.06,245 L150.45,245.18 L150.84,245.35 L151.23,245.51 L151.63,245.66 L152.02,245.81 L152.41,245.95 L152.8,246.09 L153.19,246.22 L153.59,246.34 L153.98,246.46 L154.37,246.57 L154.76,246.68 L155.15,246.78 L155.55,246.87 L155.94,246.96 L156.33,247.05 L156.72,247.13 L157.12,247.2 L157.51,247.28 L157.9,247.35 L158.29,247.42 L158.68,247.48 L159.08,247.55 L159.47,247.61 L159.86,247.68 L160.25,247.74 L160.64,247.8 L161.04,247.85 L161.43,247.91 L161.82,247.96 L162.21,248.02 L162.6,248.07 L163,248.12 L163.39,248.17 L163.78,248.22 L164.17,248.26 L164.56,248.31 L164.96,248.36 L165.35,248.4 L165.74,248.45 L166.13,248.49 L166.52,248.53 L166.92,248.58 L167.31,248.62 L167.7,248.66 L168.09,248.7 L168.48,248.75 L168.88,248.79 L169.27,248.83 L169.66,248.87 L170.05,248.92 L170.44,248.96 L170.84,249 L171.23,249.05 L171.62,249.09 L172.01,249.13 L172.41,249.18 L172.8,249.22 L173.19,249.27 L173.58,249.32 L173.97,249.37 L174.37,249.42 L174.76,249.47 L175.15,249.52 L175.54,249.57 L175.93,249.62 L176.33,249.67 L176.72,249.73 L177.11,249.78 L177.5,249.83 L177.89,249.89 L178.29,249.94 L178.68,249.99 L179.07,250.05 L179.46,250.1 L179.85,250.16 L180.25,250.21 L180.64,250.26 L181.03,250.32 L181.42,250.37 L181.81,250.43 L182.21,250.48 L182.6,250.54 L182.99,250.59 L183.38,250.65 L183.77,250.7 L184.17,250.76 L184.56,250.81 L184.95,250.87 L185.34,250.92 L185.74,250.97 L186.13,251.03 L186.52,251.08 L186.91,251.14 L187.3,251.19 L187.7,251.25 L188.09,251.3 L188.48,251.35 L188.87,251.41 L189.26,251.46 L189.66,251.52 L190.05,251.57 L190.44,251.62 L190.83,251.68 L191.22,251.73 L191.62,251.78 L192.01,251.83 L192.4,251.88 L192.79,251.94 L193.18,251.99 L193.58,252.04 L193.97,252.09 L194.36,252.14 L194.75,252.19 L195.14,252.24 L195.54,252.29 L195.93,252.34 L196.32,252.39 L196.71,252.43 L197.1,252.48 L197.5,252.53 L197.89,252.58 L198.28,252.62 L198.67,252.67 L199.07,252.72 L199.46,252.76 L199.85,252.8 L200.24,252.85 L200.63,252.89 L201.03,252.94 L201.42,252.98 L201.81,253.03 L202.2,253.07 L202.59,253.11 L202.99,253.16 L203.38,253.2 L203.77,253.24 L204.16,253.29 L204.55,253.33 L204.95,253.37 L205.34,253.41 L205.73,253.46 L206.12,253.5 L206.51,253.54 L206.91,253.58 L207.3,253.62 L207.69,253.66 L208.08,253.71 L208.47,253.75 L208.87,253.79 L209.26,253.83 L209.65,253.87 L210.04,253.91 L210.43,253.95 L210.83,253.99 L211.22,254.03 L211.61,254.07 L212,254.11 L212.4,254.15 L212.79,254.19 L213.18,254.23 L213.57,254.26 L213.96,254.3 L214.36,254.34 L214.75,254.38 L215.14,254.42 L215.53,254.45 L215.92,254.49 L216.32,254.53 L216.71,254.57 L217.1,254.6 L217.49,254.64 L217.88,254.68 L218.28,254.71 L218.67,254.75 L219.06,254.78 L219.45,254.82 L219.84,254.86 L220.24,254.89 L220.63,254.93 L221.02,254.96 L221.41,255 L221.8,255.03 L222.2,255.06 L222.59,255.1 L222.98,255.13 L223.37,255.16 L223.76,255.2 L224.16,255.23 L224.55,255.26 L224.94,255.3 L225.33,255.33 L225.72,255.36" fill="none" stroke="#e0242c" stroke-width="1.6" stroke-dasharray="3.5,2.3" />
<path d="M108.5,284.2 L108.89,284.2 L109.28,284.2 L109.68,284.2 L110.07,284.2 L110.46,284.2 L110.85,284.2 L111.24,284.2 L111.64,284.2 L112.03,284.2 L112.42,284.2 L112.81,284.2 L113.2,284.2 L113.6,284.2 L113.99,284.2 L114.38,284.2 L114.77,284.2 L115.16,284.2 L115.56,284.2 L115.95,284.2 L116.34,284.2 L116.73,284.2 L117.13,284.2 L117.52,284.2 L117.91,284.2 L118.3,284.2 L118.69,284.2 L119.09,284.2 L119.48,284.2 L119.87,284.2 L120.26,284.2 L120.65,284.2 L121.05,284.2 L121.44,284.2 L121.83,284.17 L122.22,284.06 L122.61,283.87 L123.01,283.62 L123.4,283.32 L123.79,282.97 L124.18,282.6 L124.57,282.06 L124.97,281.3 L125.36,280.34 L125.75,279.22 L126.14,277.98 L126.53,276.66 L126.93,275.22 L127.32,273.33 L127.71,271.15 L128.1,268.89 L128.49,266.79 L128.89,264.91 L129.28,263.05 L129.67,261.24 L130.06,259.52 L130.46,257.92 L130.85,256.46 L131.24,255.03 L131.63,253.68 L132.02,252.47 L132.42,251.43 L132.81,250.58 L133.2,249.77 L133.59,249.25 L133.98,249.2 L134.38,249.36 L134.77,249.63 L135.16,249.97 L135.55,250.55 L135.94,251.57 L136.34,252.88 L136.73,254.33 L137.12,255.75 L137.51,257.18 L137.9,258.75 L138.3,260.42 L138.69,262.13 L139.08,263.8 L139.47,265.4 L139.86,266.86 L140.26,268.29 L140.65,269.7 L141.04,271.06 L141.43,272.35 L141.82,273.53 L142.22,274.58 L142.61,275.48 L143,276.36 L143.39,277.2 L143.79,278 L144.18,278.75 L144.57,279.45 L144.96,280.09 L145.35,280.65 L145.75,281.12 L146.14,281.51 L146.53,281.82 L146.92,282.11 L147.31,282.39 L147.71,282.65 L148.1,282.88 L148.49,283.1 L148.88,283.3 L149.27,283.47 L149.67,283.62 L150.06,283.74 L150.45,283.83 L150.84,283.89 L151.23,283.94 L151.63,283.98 L152.02,284.02 L152.41,284.06 L152.8,284.09 L153.19,284.12 L153.59,284.14 L153.98,284.17 L154.37,284.18 L154.76,284.19 L155.15,284.2 L155.55,284.2 L155.94,284.2 L156.33,284.2 L156.72,284.2 L157.12,284.2 L157.51,284.2 L157.9,284.2 L158.29,284.2 L158.68,284.2 L159.08,284.2 L159.47,284.2 L159.86,284.2 L160.25,284.2 L160.64,284.2 L161.04,284.2 L161.43,284.2 L161.82,284.2 L162.21,284.2 L162.6,284.2 L163,284.2 L163.39,284.2 L163.78,284.2 L164.17,284.2 L164.56,284.2 L164.96,284.2 L165.35,284.2 L165.74,284.2 L166.13,284.2 L166.52,284.2 L166.92,284.2 L167.31,284.2 L167.7,284.2 L168.09,284.2 L168.48,284.2 L168.88,284.2 L169.27,284.2 L169.66,284.2 L170.05,284.2 L170.44,284.2 L170.84,284.2 L171.23,284.2 L171.62,284.2 L172.01,284.2 L172.41,284.2 L172.8,284.2 L173.19,284.2 L173.58,284.2 L173.97,284.2 L174.37,284.2 L174.76,284.2 L175.15,284.2 L175.54,284.2 L175.93,284.2 L176.33,284.2 L176.72,284.2 L177.11,284.2 L177.5,284.2 L177.89,284.2 L178.29,284.2 L178.68,284.2 L179.07,284.2 L179.46,284.2 L179.85,284.2 L180.25,284.2 L180.64,284.2 L181.03,284.2 L181.42,284.2 L181.81,284.2 L182.21,284.2 L182.6,284.2 L182.99,284.2 L183.38,284.2 L183.77,284.2 L184.17,284.2 L184.56,284.2 L184.95,284.2 L185.34,284.2 L185.74,284.2 L186.13,284.2 L186.52,284.2 L186.91,284.2 L187.3,284.2 L187.7,284.2 L188.09,284.2 L188.48,284.2 L188.87,284.2 L189.26,284.2 L189.66,284.2 L190.05,284.2 L190.44,284.2 L190.83,284.2 L191.22,284.2 L191.62,284.2 L192.01,284.2 L192.4,284.2 L192.79,284.2 L193.18,284.2 L193.58,284.2 L193.97,284.2 L194.36,284.2 L194.75,284.2 L195.14,284.2 L195.54,284.2 L195.93,284.2 L196.32,284.2 L196.71,284.2 L197.1,284.2 L197.5,284.2 L197.89,284.2 L198.28,284.2 L198.67,284.2 L199.07,284.2 L199.46,284.2 L199.85,284.2 L200.24,284.2 L200.63,284.2 L201.03,284.2 L201.42,284.2 L201.81,284.2 L202.2,284.2 L202.59,284.2 L202.99,284.2 L203.38,284.2 L203.77,284.2 L204.16,284.2 L204.55,284.2 L204.95,284.2 L205.34,284.2 L205.73,284.2 L206.12,284.2 L206.51,284.2 L206.91,284.2 L207.3,284.2 L207.69,284.2 L208.08,284.2 L208.47,284.2 L208.87,284.2 L209.26,284.2 L209.65,284.2 L210.04,284.2 L210.43,284.2 L210.83,284.2 L211.22,284.2 L211.61,284.2 L212,284.2 L212.4,284.2 L212.79,284.2 L213.18,284.2 L213.57,284.2 L213.96,284.2 L214.36,284.2 L214.75,284.2 L215.14,284.2 L215.53,284.2 L215.92,284.2 L216.32,284.2 L216.71,284.2 L217.1,284.2 L217.49,284.2 L217.88,284.2 L218.28,284.2 L218.67,284.2 L219.06,284.2 L219.45,284.2 L219.84,284.2 L220.24,284.2 L220.63,284.2 L221.02,284.2 L221.41,284.2 L221.8,284.2 L222.2,284.2 L222.59,284.2 L222.98,284.2 L223.37,284.2 L223.76,284.2 L224.16,284.2 L224.55,284.2 L224.94,284.2 L225.33,284.2 L225.72,284.2" fill="none" stroke="#2f5c9c" stroke-width="1.7" />
<path d="M108.8,210.7 L108.8,294 L226.5,294" fill="none" stroke="#4a4a4a" stroke-width="0.9"/>
<line x1="108.5" y1="294" x2="108.5" y2="292" stroke="#4a4a4a" stroke-width="0.8"/>
<text x="108.5" y="302.6" font-size="6.6" text-anchor="middle" font-weight="bold" fill="#1a1a1a" stroke="#1a1a1a" stroke-width="0.28">-2</text>
<line x1="134.55" y1="294" x2="134.55" y2="292" stroke="#4a4a4a" stroke-width="0.8"/>
<text x="134.55" y="302.6" font-size="6.6" text-anchor="middle" font-weight="bold" fill="#1a1a1a" stroke="#1a1a1a" stroke-width="0.28">0</text>
<line x1="160.6" y1="294" x2="160.6" y2="292" stroke="#4a4a4a" stroke-width="0.8"/>
<text x="160.6" y="302.6" font-size="6.6" text-anchor="middle" font-weight="bold" fill="#1a1a1a" stroke="#1a1a1a" stroke-width="0.28">2</text>
<line x1="186.65" y1="294" x2="186.65" y2="292" stroke="#4a4a4a" stroke-width="0.8"/>
<text x="186.65" y="302.6" font-size="6.6" text-anchor="middle" font-weight="bold" fill="#1a1a1a" stroke="#1a1a1a" stroke-width="0.28">4</text>
<line x1="212.7" y1="294" x2="212.7" y2="292" stroke="#4a4a4a" stroke-width="0.8"/>
<text x="212.7" y="302.6" font-size="6.6" text-anchor="middle" font-weight="bold" fill="#1a1a1a" stroke="#1a1a1a" stroke-width="0.28">6</text>
<line x1="121.53" y1="294" x2="121.53" y2="292.8" stroke="#4a4a4a" stroke-width="0.7"/>
<line x1="147.57" y1="294" x2="147.57" y2="292.8" stroke="#4a4a4a" stroke-width="0.7"/>
<line x1="173.62" y1="294" x2="173.62" y2="292.8" stroke="#4a4a4a" stroke-width="0.7"/>
<line x1="199.67" y1="294" x2="199.67" y2="292.8" stroke="#4a4a4a" stroke-width="0.7"/>
<line x1="225.72" y1="294" x2="225.72" y2="292.8" stroke="#4a4a4a" stroke-width="0.7"/>
<line x1="108.8" y1="284.2" x2="110.8" y2="284.2" stroke="#4a4a4a" stroke-width="0.8"/>
<text x="106.2" y="286.44" font-size="6.6" text-anchor="end" font-weight="bold" fill="#1a1a1a" stroke="#1a1a1a" stroke-width="0.28">0</text>
<line x1="108.8" y1="263.6" x2="110.8" y2="263.6" stroke="#4a4a4a" stroke-width="0.8"/>
<text x="106.2" y="265.84" font-size="6.6" text-anchor="end" font-weight="bold" fill="#1a1a1a" stroke="#1a1a1a" stroke-width="0.28">2</text>
<line x1="108.8" y1="243" x2="110.8" y2="243" stroke="#4a4a4a" stroke-width="0.8"/>
<text x="106.2" y="245.24" font-size="6.6" text-anchor="end" font-weight="bold" fill="#1a1a1a" stroke="#1a1a1a" stroke-width="0.28">4</text>
<line x1="108.8" y1="222.4" x2="110.8" y2="222.4" stroke="#4a4a4a" stroke-width="0.8"/>
<text x="106.2" y="224.64" font-size="6.6" text-anchor="end" font-weight="bold" fill="#1a1a1a" stroke="#1a1a1a" stroke-width="0.28">6</text>
<line x1="108.8" y1="273.9" x2="110.0" y2="273.9" stroke="#4a4a4a" stroke-width="0.7"/>
<line x1="108.8" y1="253.3" x2="110.0" y2="253.3" stroke="#4a4a4a" stroke-width="0.7"/>
<line x1="108.8" y1="232.7" x2="110.0" y2="232.7" stroke="#4a4a4a" stroke-width="0.7"/>
<text x="107.5" y="207.5" font-size="5.4" font-weight="bold" fill="#1a1a1a">&#215;10<tspan font-size="3.6" dy="-2">14</tspan></text>
<text x="141.3" y="315.3" font-size="7.3" text-anchor="start" font-weight="bold" fill="#1a1a1a" textLength="52.5" lengthAdjust="spacingAndGlyphs" stroke="#1a1a1a" stroke-width="0.32">Delay Time (ps)</text>
<text transform="translate(94.6,256.4) rotate(-90)" font-size="7.4" font-weight="bold" text-anchor="middle" fill="#1a1a1a" stroke="#1a1a1a" stroke-width="0.28" textLength="78" lengthAdjust="spacingAndGlyphs">Carrier Density (cm<tspan font-size="4.6" dy="-2.7">-2</tspan><tspan dy="2.7">)</tspan></text>
<path d="M178.9,219.4 L196.8,219.4" fill="none" stroke="#e0242c" stroke-width="1.7" stroke-dasharray="4,2.2" />
<path d="M178.9,230.4 L196.8,230.4" fill="none" stroke="#2f5c9c" stroke-width="1.7" />
<text x="200.7" y="222.4" font-size="8.3" text-anchor="start" font-weight="bold" fill="#1a1a1a" textLength="29.9" lengthAdjust="spacingAndGlyphs" stroke="#1a1a1a" stroke-width="0.32">Electron</text>
<text x="200.7" y="233.4" font-size="8.3" text-anchor="start" font-weight="bold" fill="#1a1a1a" textLength="16.5" lengthAdjust="spacingAndGlyphs" stroke="#1a1a1a" stroke-width="0.32">Hole</text>
<text x="267.5" y="207.4" font-size="17" text-anchor="start" font-weight="normal" fill="#111" textLength="18.8" lengthAdjust="spacingAndGlyphs" stroke="#111" stroke-width="0.55">(d)</text>
<path d="M313.6,337.63 L313.6,215.2 L503.4,215.2" fill="none" stroke="#2f5c9c" stroke-width="1.8" />
<path d="M310.56,215.2 L313.6,215.2 L313.6,309.04 L313.79,309.04 L313.8,308.61 L313.8,308.19 L313.81,307.76 L313.82,307.33 L313.83,306.9 L313.83,306.47 L313.84,306.04 L313.85,305.61 L313.86,305.17 L313.87,304.74 L313.88,304.3 L313.89,303.87 L313.9,303.43 L313.91,303 L313.92,302.56 L313.93,302.12 L313.94,301.68 L313.95,301.24 L313.97,300.8 L313.98,300.36 L313.99,299.92 L314.01,299.48 L314.02,299.04 L314.04,298.59 L314.05,298.15 L314.07,297.7 L314.08,297.26 L314.1,296.81 L314.12,296.36 L314.14,295.91 L314.16,295.47 L314.18,295.02 L314.2,294.57 L314.22,294.12 L314.24,293.67 L314.26,293.21 L314.29,292.76 L314.31,292.31 L314.33,291.86 L314.36,291.4 L314.39,290.95 L314.42,290.49 L314.44,290.04 L314.47,289.58 L314.51,289.12 L314.54,288.66 L314.57,288.21 L314.6,287.75 L314.64,287.29 L314.68,286.83 L314.71,286.37 L314.75,285.91 L314.79,285.45 L314.84,284.98 L314.88,284.52 L314.93,284.06 L314.97,283.6 L315.02,283.13 L315.07,282.67 L315.12,282.2 L315.18,281.74 L315.23,281.27 L315.29,280.81 L315.35,280.34 L315.41,279.87 L315.48,279.4 L315.54,278.94 L315.61,278.47 L315.68,278 L315.76,277.53 L315.83,277.06 L315.91,276.59 L315.99,276.12 L316.08,275.64 L316.16,275.17 L316.25,274.7 L316.35,274.22 L316.45,273.75 L316.55,273.27 L316.65,272.8 L316.76,272.32 L316.87,271.84 L316.98,271.36 L317.1,270.88 L317.23,270.4 L317.36,269.92 L317.49,269.44 L317.63,268.95 L317.77,268.47 L317.92,267.98 L318.07,267.49 L318.23,267 L318.39,266.51 L318.56,266.02 L318.73,265.53 L318.92,265.04 L319.1,264.54 L319.3,264.05 L319.5,263.55 L319.71,263.05 L319.92,262.55 L320.15,262.05 L320.38,261.55 L320.62,261.05 L320.86,260.54 L321.12,260.04 L321.39,259.53 L321.66,259.02 L321.95,258.51 L322.24,257.98 L322.55,257.45 L322.86,256.92 L323.19,256.38 L323.53,255.84 L323.88,255.29 L324.24,254.74 L324.62,254.19 L325.01,253.64 L325.41,253.09 L325.83,252.54 L326.26,251.99 L326.71,251.45 L327.17,250.91 L327.65,250.37 L328.15,249.84 L328.66,249.31 L329.19,248.79 L329.74,248.28 L330.31,247.78 L330.9,247.29 L331.51,246.81 L332.15,246.34 L332.8,245.87 L333.48,245.41 L334.18,244.95 L334.91,244.5 L335.66,244.05 L336.44,243.6 L337.25,243.16 L338.08,242.73 L338.95,242.3 L339.84,241.88 L340.77,241.46 L341.73,241.06 L342.72,240.66 L343.75,240.26 L344.82,239.88 L345.92,239.5 L347.06,239.13 L348.24,238.77 L349.47,238.41 L350.73,238.06 L352.04,237.71 L353.4,237.36 L354.81,237.02 L356.26,236.69 L357.77,236.36 L359.33,236.03 L360.95,235.71 L362.62,235.4 L364.35,235.08 L366.14,234.78 L368,234.47 L369.92,234.17 L371.91,233.88 L373.97,233.59 L376.1,233.3 L378.31,233.02 L380.59,232.74 L382.96,232.46 L385.41,232.19 L387.95,231.92 L390.57,231.66 L393.29,231.4 L396.11,231.14 L399.02,230.89 L402.04,230.64 L405.16,230.4 L408.4,230.16 L411.74,229.93 L415.21,229.7 L418.8,229.48 L422.52,229.26 L426.36,229.04 L430.35,228.83 L434.47,228.62 L438.74,228.41 L443.16,228.2 L447.74,228 L452.47,227.81 L457.38,227.61 L462.46,227.42 L467.71,227.23 L473.16,227.05 L478.79,226.87 L484.63,226.7 L490.67,226.53 L496.92,226.36 L503.4,226.2" fill="none" stroke="#e0242c" stroke-width="1.7" stroke-dasharray="4,2.6" />
<rect x="298.3" y="200.2" width="205.09999999999997" height="146.8" fill="none" stroke="#4a4a4a" stroke-width="1.1"/>
<line x1="313.6" y1="347.0" x2="313.6" y2="344.5" stroke="#4a4a4a" stroke-width="0.8"/>
<line x1="313.6" y1="200.2" x2="313.6" y2="202.7" stroke="#4a4a4a" stroke-width="0.8"/>
<text x="313.6" y="357" font-size="8.3" text-anchor="middle" font-weight="bold" fill="#1a1a1a" stroke="#1a1a1a" stroke-width="0.28">0</text>
<line x1="351.56" y1="347.0" x2="351.56" y2="344.5" stroke="#4a4a4a" stroke-width="0.8"/>
<line x1="351.56" y1="200.2" x2="351.56" y2="202.7" stroke="#4a4a4a" stroke-width="0.8"/>
<text x="351.56" y="357" font-size="8.3" text-anchor="middle" font-weight="bold" fill="#1a1a1a" stroke="#1a1a1a" stroke-width="0.28">100</text>
<line x1="389.52" y1="347.0" x2="389.52" y2="344.5" stroke="#4a4a4a" stroke-width="0.8"/>
<line x1="389.52" y1="200.2" x2="389.52" y2="202.7" stroke="#4a4a4a" stroke-width="0.8"/>
<text x="389.52" y="357" font-size="8.3" text-anchor="middle" font-weight="bold" fill="#1a1a1a" stroke="#1a1a1a" stroke-width="0.28">200</text>
<line x1="427.48" y1="347.0" x2="427.48" y2="344.5" stroke="#4a4a4a" stroke-width="0.8"/>
<line x1="427.48" y1="200.2" x2="427.48" y2="202.7" stroke="#4a4a4a" stroke-width="0.8"/>
<text x="427.48" y="357" font-size="8.3" text-anchor="middle" font-weight="bold" fill="#1a1a1a" stroke="#1a1a1a" stroke-width="0.28">300</text>
<line x1="465.44" y1="347.0" x2="465.44" y2="344.5" stroke="#4a4a4a" stroke-width="0.8"/>
<line x1="465.44" y1="200.2" x2="465.44" y2="202.7" stroke="#4a4a4a" stroke-width="0.8"/>
<text x="465.44" y="357" font-size="8.3" text-anchor="middle" font-weight="bold" fill="#1a1a1a" stroke="#1a1a1a" stroke-width="0.28">400</text>
<line x1="503.4" y1="347.0" x2="503.4" y2="344.5" stroke="#4a4a4a" stroke-width="0.8"/>
<line x1="503.4" y1="200.2" x2="503.4" y2="202.7" stroke="#4a4a4a" stroke-width="0.8"/>
<text x="503.4" y="357" font-size="8.3" text-anchor="middle" font-weight="bold" fill="#1a1a1a" stroke="#1a1a1a" stroke-width="0.28">500</text>
<line x1="332.58" y1="347.0" x2="332.58" y2="345.5" stroke="#4a4a4a" stroke-width="0.7"/>
<line x1="332.58" y1="200.2" x2="332.58" y2="201.7" stroke="#4a4a4a" stroke-width="0.7"/>
<line x1="370.54" y1="347.0" x2="370.54" y2="345.5" stroke="#4a4a4a" stroke-width="0.7"/>
<line x1="370.54" y1="200.2" x2="370.54" y2="201.7" stroke="#4a4a4a" stroke-width="0.7"/>
<line x1="408.5" y1="347.0" x2="408.5" y2="345.5" stroke="#4a4a4a" stroke-width="0.7"/>
<line x1="408.5" y1="200.2" x2="408.5" y2="201.7" stroke="#4a4a4a" stroke-width="0.7"/>
<line x1="446.46" y1="347.0" x2="446.46" y2="345.5" stroke="#4a4a4a" stroke-width="0.7"/>
<line x1="446.46" y1="200.2" x2="446.46" y2="201.7" stroke="#4a4a4a" stroke-width="0.7"/>
<line x1="484.42" y1="347.0" x2="484.42" y2="345.5" stroke="#4a4a4a" stroke-width="0.7"/>
<line x1="484.42" y1="200.2" x2="484.42" y2="201.7" stroke="#4a4a4a" stroke-width="0.7"/>
<line x1="298.3" y1="332.5" x2="300.8" y2="332.5" stroke="#4a4a4a" stroke-width="0.8"/>
<line x1="503.4" y1="332.5" x2="500.9" y2="332.5" stroke="#4a4a4a" stroke-width="0.8"/>
<text x="294.5" y="335.32" font-size="8.3" text-anchor="end" font-weight="bold" fill="#1a1a1a" stroke="#1a1a1a" stroke-width="0.28">0.2</text>
<line x1="298.3" y1="303.18" x2="300.8" y2="303.18" stroke="#4a4a4a" stroke-width="0.8"/>
<line x1="503.4" y1="303.18" x2="500.9" y2="303.18" stroke="#4a4a4a" stroke-width="0.8"/>
<text x="294.5" y="306" font-size="8.3" text-anchor="end" font-weight="bold" fill="#1a1a1a" stroke="#1a1a1a" stroke-width="0.28">0.4</text>
<line x1="298.3" y1="273.85" x2="300.8" y2="273.85" stroke="#4a4a4a" stroke-width="0.8"/>
<line x1="503.4" y1="273.85" x2="500.9" y2="273.85" stroke="#4a4a4a" stroke-width="0.8"/>
<text x="294.5" y="276.67" font-size="8.3" text-anchor="end" font-weight="bold" fill="#1a1a1a" stroke="#1a1a1a" stroke-width="0.28">0.6</text>
<line x1="298.3" y1="244.52" x2="300.8" y2="244.52" stroke="#4a4a4a" stroke-width="0.8"/>
<line x1="503.4" y1="244.52" x2="500.9" y2="244.52" stroke="#4a4a4a" stroke-width="0.8"/>
<text x="294.5" y="247.35" font-size="8.3" text-anchor="end" font-weight="bold" fill="#1a1a1a" stroke="#1a1a1a" stroke-width="0.28">0.8</text>
<line x1="298.3" y1="215.2" x2="300.8" y2="215.2" stroke="#4a4a4a" stroke-width="0.8"/>
<line x1="503.4" y1="215.2" x2="500.9" y2="215.2" stroke="#4a4a4a" stroke-width="0.8"/>
<text x="294.5" y="218.02" font-size="8.3" text-anchor="end" font-weight="bold" fill="#1a1a1a" stroke="#1a1a1a" stroke-width="0.28">1.0</text>
<line x1="298.3" y1="317.84" x2="299.8" y2="317.84" stroke="#4a4a4a" stroke-width="0.7"/>
<line x1="503.4" y1="317.84" x2="501.9" y2="317.84" stroke="#4a4a4a" stroke-width="0.7"/>
<line x1="298.3" y1="288.51" x2="299.8" y2="288.51" stroke="#4a4a4a" stroke-width="0.7"/>
<line x1="503.4" y1="288.51" x2="501.9" y2="288.51" stroke="#4a4a4a" stroke-width="0.7"/>
<line x1="298.3" y1="259.19" x2="299.8" y2="259.19" stroke="#4a4a4a" stroke-width="0.7"/>
<line x1="503.4" y1="259.19" x2="501.9" y2="259.19" stroke="#4a4a4a" stroke-width="0.7"/>
<line x1="298.3" y1="229.86" x2="299.8" y2="229.86" stroke="#4a4a4a" stroke-width="0.7"/>
<line x1="503.4" y1="229.86" x2="501.9" y2="229.86" stroke="#4a4a4a" stroke-width="0.7"/>
<line x1="298.3" y1="347.16" x2="299.8" y2="347.16" stroke="#4a4a4a" stroke-width="0.7"/>
<line x1="503.4" y1="347.16" x2="501.9" y2="347.16" stroke="#4a4a4a" stroke-width="0.7"/>
<text x="367.8" y="373.2" font-size="10" text-anchor="start" font-weight="bold" fill="#1a1a1a" textLength="66.6" lengthAdjust="spacingAndGlyphs" stroke="#1a1a1a" stroke-width="0.32">Delay Time (ps)</text>
<text x="273.6" y="275.9" font-size="10" text-anchor="middle" font-weight="bold" fill="#1a1a1a" transform="rotate(-90 273.6 275.9)" textLength="102" lengthAdjust="spacingAndGlyphs" stroke="#1a1a1a" stroke-width="0.32">Defect Elec. Occupation</text>
<path d="M360.4,252.9 L360.74,252.9 L361.08,252.9 L361.42,252.9 L361.75,252.9 L362.09,252.9 L362.43,252.9 L362.77,252.9 L363.11,252.9 L363.45,252.9 L363.79,252.9 L364.13,252.9 L364.46,252.9 L364.8,252.9 L365.14,252.9 L365.48,252.9 L365.82,252.9 L366.16,252.9 L366.5,252.9 L366.83,252.9 L367.17,252.9 L367.51,252.9 L367.85,252.9 L368.19,252.9 L368.53,252.9 L368.87,252.9 L369.21,252.9 L369.54,252.9 L369.88,252.9 L370.22,252.9 L370.56,252.9 L370.9,252.9 L371.24,252.9 L371.58,252.9 L371.91,252.9 L372.25,252.9 L372.59,252.9 L372.93,252.9 L373.27,252.9 L373.61,252.9 L373.95,252.9 L374.29,252.9 L374.62,252.93 L374.96,253.3 L375.3,254.02 L375.64,254.97 L375.98,256.04 L376.32,257.17 L376.66,258.69 L376.99,260.58 L377.33,262.74 L377.67,265.05 L378.01,267.41 L378.35,269.71 L378.69,271.85 L379.03,273.94 L379.37,276.09 L379.7,278.25 L380.04,280.39 L380.38,282.46 L380.72,284.43 L381.06,286.25 L381.4,287.97 L381.74,289.79 L382.07,291.67 L382.41,293.55 L382.75,295.35 L383.09,297.03 L383.43,298.53 L383.77,299.77 L384.11,300.71 L384.45,301.28 L384.78,301.43 L385.12,301.41 L385.46,301.36 L385.8,301.28 L386.14,301.18 L386.48,301.06 L386.82,300.93 L387.15,300.79 L387.49,300.64 L387.83,300.49 L388.17,300.34 L388.51,300.2 L388.85,300.06 L389.19,299.94 L389.52,299.83 L389.86,299.73 L390.2,299.63 L390.54,299.53 L390.88,299.43 L391.22,299.33 L391.56,299.23 L391.9,299.13 L392.23,299.04 L392.57,298.94 L392.91,298.84 L393.25,298.75 L393.59,298.65 L393.93,298.56 L394.27,298.47 L394.6,298.38 L394.94,298.28 L395.28,298.19 L395.62,298.1 L395.96,298.01 L396.3,297.92 L396.64,297.83 L396.98,297.74 L397.31,297.65 L397.65,297.57 L397.99,297.48 L398.33,297.39 L398.67,297.3 L399.01,297.21 L399.35,297.13 L399.68,297.04 L400.02,296.95 L400.36,296.87 L400.7,296.78 L401.04,296.69 L401.38,296.61 L401.72,296.52 L402.06,296.43 L402.39,296.35 L402.73,296.26 L403.07,296.17 L403.41,296.09 L403.75,296 L404.09,295.92 L404.43,295.83 L404.76,295.75 L405.1,295.66 L405.44,295.58 L405.78,295.5 L406.12,295.41 L406.46,295.33 L406.8,295.25 L407.14,295.16 L407.47,295.08 L407.81,295 L408.15,294.92 L408.49,294.84 L408.83,294.75 L409.17,294.67 L409.51,294.59 L409.84,294.51 L410.18,294.43 L410.52,294.35 L410.86,294.27 L411.2,294.19 L411.54,294.11 L411.88,294.03 L412.22,293.95 L412.55,293.87 L412.89,293.79 L413.23,293.71 L413.57,293.63 L413.91,293.55 L414.25,293.48 L414.59,293.4 L414.92,293.32 L415.26,293.24 L415.6,293.17 L415.94,293.09 L416.28,293.01 L416.62,292.93 L416.96,292.86 L417.3,292.78 L417.63,292.7 L417.97,292.62 L418.31,292.54 L418.65,292.47 L418.99,292.39 L419.33,292.31 L419.67,292.23 L420,292.16 L420.34,292.08 L420.68,292 L421.02,291.92 L421.36,291.85 L421.7,291.77 L422.04,291.69 L422.38,291.62 L422.71,291.54 L423.05,291.46 L423.39,291.39 L423.73,291.31 L424.07,291.23 L424.41,291.16 L424.75,291.08 L425.08,291.01 L425.42,290.93 L425.76,290.86 L426.1,290.79 L426.44,290.71 L426.78,290.64 L427.12,290.56 L427.46,290.49 L427.79,290.42 L428.13,290.35 L428.47,290.27 L428.81,290.2 L429.15,290.13 L429.49,290.06 L429.83,289.99 L430.16,289.92 L430.5,289.85 L430.84,289.78 L431.18,289.71 L431.52,289.65 L431.86,289.58 L432.2,289.51 L432.54,289.44 L432.87,289.38 L433.21,289.31 L433.55,289.25 L433.89,289.18 L434.23,289.12 L434.57,289.06 L434.91,289 L435.24,288.93 L435.58,288.87 L435.92,288.81 L436.26,288.75 L436.6,288.69 L436.94,288.63 L437.28,288.57 L437.61,288.51 L437.95,288.45 L438.29,288.39 L438.63,288.33 L438.97,288.27 L439.31,288.21 L439.65,288.15 L439.99,288.09 L440.32,288.03 L440.66,287.97 L441,287.91 L441.34,287.85 L441.68,287.79 L442.02,287.74 L442.36,287.68 L442.69,287.62 L443.03,287.56 L443.37,287.51 L443.71,287.45 L444.05,287.39 L444.39,287.34 L444.73,287.28 L445.07,287.22 L445.4,287.17 L445.74,287.11 L446.08,287.06 L446.42,287 L446.76,286.95 L447.1,286.89 L447.44,286.84 L447.77,286.79 L448.11,286.73 L448.45,286.68 L448.79,286.63 L449.13,286.57 L449.47,286.52 L449.81,286.47 L450.15,286.42 L450.48,286.36 L450.82,286.31 L451.16,286.26 L451.5,286.21 L451.84,286.16 L452.18,286.11 L452.52,286.06 L452.85,286.01 L453.19,285.96 L453.53,285.91 L453.87,285.86 L454.21,285.81 L454.55,285.77 L454.89,285.72 L455.23,285.67 L455.56,285.62 L455.9,285.58 L456.24,285.53 L456.58,285.48 L456.92,285.44 L457.26,285.39 L457.6,285.35 L457.93,285.3 L458.27,285.26 L458.61,285.21 L458.95,285.17 L459.29,285.12 L459.63,285.08 L459.97,285.04 L460.31,284.99 L460.64,284.95 L460.98,284.91 L461.32,284.87 L461.66,284.83" fill="none" stroke="#e0242c" stroke-width="1.6" stroke-dasharray="3.5,2.3" />
<path d="M360.4,252.9 L360.74,252.9 L361.08,252.9 L361.42,252.9 L361.75,252.9 L362.09,252.9 L362.43,252.9 L362.77,252.9 L363.11,252.9 L363.45,252.9 L363.79,252.9 L364.13,252.9 L364.46,252.9 L364.8,252.9 L365.14,252.9 L365.48,252.9 L365.82,252.9 L366.16,252.9 L366.5,252.9 L366.83,252.9 L367.17,252.9 L367.51,252.9 L367.85,252.9 L368.19,252.9 L368.53,252.9 L368.87,252.9 L369.21,252.9 L369.54,252.9 L369.88,252.9 L370.22,252.9 L370.56,252.9 L370.9,252.9 L371.24,252.9 L371.58,252.9 L371.91,252.9 L372.25,252.9 L372.59,252.9 L372.93,252.91 L373.27,253.09 L373.61,253.49 L373.95,254.09 L374.29,255.34 L374.62,259.12 L374.96,264.69 L375.3,270.96 L375.64,279.11 L375.98,290.03 L376.32,300.24 L376.66,306.37 L376.99,310.34 L377.33,313.51 L377.67,315.33 L378.01,315.48 L378.35,314.98 L378.69,314.13 L379.03,313.06 L379.37,311.91 L379.7,310.72 L380.04,309.2 L380.38,307.41 L380.72,305.45 L381.06,303.38 L381.4,301.31 L381.74,299.32 L382.07,297.48 L382.41,295.68 L382.75,293.88 L383.09,292.09 L383.43,290.33 L383.77,288.61 L384.11,286.93 L384.45,285.32 L384.78,283.76 L385.12,282.24 L385.46,280.75 L385.8,279.3 L386.14,277.9 L386.48,276.54 L386.82,275.23 L387.15,273.97 L387.49,272.73 L387.83,271.53 L388.17,270.36 L388.51,269.24 L388.85,268.17 L389.19,267.16 L389.52,266.22 L389.86,265.32 L390.2,264.44 L390.54,263.6 L390.88,262.78 L391.22,262 L391.56,261.25 L391.9,260.54 L392.23,259.88 L392.57,259.25 L392.91,258.67 L393.25,258.09 L393.59,257.52 L393.93,256.97 L394.27,256.44 L394.6,255.94 L394.94,255.49 L395.28,255.09 L395.62,254.75 L395.96,254.48 L396.3,254.28 L396.64,254.09 L396.98,253.91 L397.31,253.73 L397.65,253.57 L397.99,253.42 L398.33,253.28 L398.67,253.17 L399.01,253.07 L399.35,252.99 L399.68,252.94 L400.02,252.91 L400.36,252.9 L400.7,252.9 L401.04,252.9 L401.38,252.9 L401.72,252.9 L402.06,252.9 L402.39,252.9 L402.73,252.9 L403.07,252.9 L403.41,252.9 L403.75,252.9 L404.09,252.9 L404.43,252.9 L404.76,252.9 L405.1,252.9 L405.44,252.9 L405.78,252.9 L406.12,252.9 L406.46,252.9 L406.8,252.9 L407.14,252.9 L407.47,252.9 L407.81,252.9 L408.15,252.9 L408.49,252.9 L408.83,252.9 L409.17,252.9 L409.51,252.9 L409.84,252.9 L410.18,252.9 L410.52,252.9 L410.86,252.9 L411.2,252.9 L411.54,252.9 L411.88,252.9 L412.22,252.9 L412.55,252.9 L412.89,252.9 L413.23,252.9 L413.57,252.9 L413.91,252.9 L414.25,252.9 L414.59,252.9 L414.92,252.9 L415.26,252.9 L415.6,252.9 L415.94,252.9 L416.28,252.9 L416.62,252.9 L416.96,252.9 L417.3,252.9 L417.63,252.9 L417.97,252.9 L418.31,252.9 L418.65,252.9 L418.99,252.9 L419.33,252.9 L419.67,252.9 L420,252.9 L420.34,252.9 L420.68,252.9 L421.02,252.9 L421.36,252.9 L421.7,252.9 L422.04,252.9 L422.38,252.9 L422.71,252.9 L423.05,252.9 L423.39,252.9 L423.73,252.9 L424.07,252.9 L424.41,252.9 L424.75,252.9 L425.08,252.9 L425.42,252.9 L425.76,252.9 L426.1,252.9 L426.44,252.9 L426.78,252.9 L427.12,252.9 L427.46,252.9 L427.79,252.9 L428.13,252.9 L428.47,252.9 L428.81,252.9 L429.15,252.9 L429.49,252.9 L429.83,252.9 L430.16,252.9 L430.5,252.9 L430.84,252.9 L431.18,252.9 L431.52,252.9 L431.86,252.9 L432.2,252.9 L432.54,252.9 L432.87,252.9 L433.21,252.9 L433.55,252.9 L433.89,252.9 L434.23,252.9 L434.57,252.9 L434.91,252.9 L435.24,252.9 L435.58,252.9 L435.92,252.9 L436.26,252.9 L436.6,252.9 L436.94,252.9 L437.28,252.9 L437.61,252.9 L437.95,252.9 L438.29,252.9 L438.63,252.9 L438.97,252.9 L439.31,252.9 L439.65,252.9 L439.99,252.9 L440.32,252.9 L440.66,252.9 L441,252.9 L441.34,252.9 L441.68,252.9 L442.02,252.9 L442.36,252.9 L442.69,252.9 L443.03,252.9 L443.37,252.9 L443.71,252.9 L444.05,252.9 L444.39,252.9 L444.73,252.9 L445.07,252.9 L445.4,252.9 L445.74,252.9 L446.08,252.9 L446.42,252.9 L446.76,252.9 L447.1,252.9 L447.44,252.9 L447.77,252.9 L448.11,252.9 L448.45,252.9 L448.79,252.9 L449.13,252.9 L449.47,252.9 L449.81,252.9 L450.15,252.9 L450.48,252.9 L450.82,252.9 L451.16,252.9 L451.5,252.9 L451.84,252.9 L452.18,252.9 L452.52,252.9 L452.85,252.9 L453.19,252.9 L453.53,252.9 L453.87,252.9 L454.21,252.9 L454.55,252.9 L454.89,252.9 L455.23,252.9 L455.56,252.9 L455.9,252.9 L456.24,252.9 L456.58,252.9 L456.92,252.9 L457.26,252.9 L457.6,252.9 L457.93,252.9 L458.27,252.9 L458.61,252.9 L458.95,252.9 L459.29,252.9 L459.63,252.9 L459.97,252.9 L460.31,252.9 L460.64,252.9 L460.98,252.9 L461.32,252.9 L461.66,252.9" fill="none" stroke="#2f5c9c" stroke-width="1.7" />
<path d="M360.5,246.1 L360.5,320.5 L460.2,320.5" fill="none" stroke="#4a4a4a" stroke-width="0.9"/>
<line x1="377" y1="320.5" x2="377" y2="318.5" stroke="#4a4a4a" stroke-width="0.8"/>
<text x="377" y="327.9" font-size="6.4" text-anchor="middle" font-weight="bold" fill="#1a1a1a" stroke="#1a1a1a" stroke-width="0.28">0</text>
<line x1="401.9" y1="320.5" x2="401.9" y2="318.5" stroke="#4a4a4a" stroke-width="0.8"/>
<text x="401.9" y="327.9" font-size="6.4" text-anchor="middle" font-weight="bold" fill="#1a1a1a" stroke="#1a1a1a" stroke-width="0.28">3</text>
<line x1="426.8" y1="320.5" x2="426.8" y2="318.5" stroke="#4a4a4a" stroke-width="0.8"/>
<text x="426.8" y="327.9" font-size="6.4" text-anchor="middle" font-weight="bold" fill="#1a1a1a" stroke="#1a1a1a" stroke-width="0.28">6</text>
<line x1="451.7" y1="320.5" x2="451.7" y2="318.5" stroke="#4a4a4a" stroke-width="0.8"/>
<text x="451.7" y="327.9" font-size="6.4" text-anchor="middle" font-weight="bold" fill="#1a1a1a" stroke="#1a1a1a" stroke-width="0.28">9</text>
<line x1="364.55" y1="320.5" x2="364.55" y2="319.3" stroke="#4a4a4a" stroke-width="0.7"/>
<line x1="389.45" y1="320.5" x2="389.45" y2="319.3" stroke="#4a4a4a" stroke-width="0.7"/>
<line x1="414.35" y1="320.5" x2="414.35" y2="319.3" stroke="#4a4a4a" stroke-width="0.7"/>
<line x1="439.25" y1="320.5" x2="439.25" y2="319.3" stroke="#4a4a4a" stroke-width="0.7"/>
<line x1="360.5" y1="313" x2="362.5" y2="313" stroke="#4a4a4a" stroke-width="0.8"/>
<text x="358.7" y="315.18" font-size="6.4" text-anchor="end" font-weight="bold" fill="#1a1a1a" stroke="#1a1a1a" stroke-width="0.28">0.2</text>
<line x1="360.5" y1="297.98" x2="362.5" y2="297.98" stroke="#4a4a4a" stroke-width="0.8"/>
<text x="358.7" y="300.15" font-size="6.4" text-anchor="end" font-weight="bold" fill="#1a1a1a" stroke="#1a1a1a" stroke-width="0.28">0.4</text>
<line x1="360.5" y1="282.95" x2="362.5" y2="282.95" stroke="#4a4a4a" stroke-width="0.8"/>
<text x="358.7" y="285.13" font-size="6.4" text-anchor="end" font-weight="bold" fill="#1a1a1a" stroke="#1a1a1a" stroke-width="0.28">0.6</text>
<line x1="360.5" y1="267.93" x2="362.5" y2="267.93" stroke="#4a4a4a" stroke-width="0.8"/>
<text x="358.7" y="270.1" font-size="6.4" text-anchor="end" font-weight="bold" fill="#1a1a1a" stroke="#1a1a1a" stroke-width="0.28">0.8</text>
<line x1="360.5" y1="252.9" x2="362.5" y2="252.9" stroke="#4a4a4a" stroke-width="0.8"/>
<text x="358.7" y="255.08" font-size="6.4" text-anchor="end" font-weight="bold" fill="#1a1a1a" stroke="#1a1a1a" stroke-width="0.28">1.0</text>
<line x1="360.5" y1="305.49" x2="361.7" y2="305.49" stroke="#4a4a4a" stroke-width="0.7"/>
<line x1="360.5" y1="290.46" x2="361.7" y2="290.46" stroke="#4a4a4a" stroke-width="0.7"/>
<line x1="360.5" y1="275.44" x2="361.7" y2="275.44" stroke="#4a4a4a" stroke-width="0.7"/>
<line x1="360.5" y1="260.41" x2="361.7" y2="260.41" stroke="#4a4a4a" stroke-width="0.7"/>
<text x="387" y="339.1" font-size="7.2" text-anchor="start" font-weight="bold" fill="#1a1a1a" textLength="46.9" lengthAdjust="spacingAndGlyphs" stroke="#1a1a1a" stroke-width="0.32">Delay Time (ps)</text>
<text x="344.9" y="284.5" font-size="7.2" text-anchor="middle" font-weight="bold" fill="#1a1a1a" transform="rotate(-90 344.9 284.5)" textLength="73.4" lengthAdjust="spacingAndGlyphs" stroke="#1a1a1a" stroke-width="0.32">Defect Elec. Occupation</text>
<path d="M426.5,264.1 L443.8,264.1" fill="none" stroke="#2f5c9c" stroke-width="1.7" />
<path d="M426.5,275 L443.8,275" fill="none" stroke="#e0242c" stroke-width="1.7" stroke-dasharray="4,2.2" />
<text x="446.5" y="267.4" font-size="8.6" text-anchor="start" font-weight="bold" fill="#1a1a1a" textLength="54.7" lengthAdjust="spacingAndGlyphs" stroke="#1a1a1a" stroke-width="0.32">Shallow Defect</text>
<text x="446.5" y="278.9" font-size="8.6" text-anchor="start" font-weight="bold" fill="#1a1a1a" textLength="43.8" lengthAdjust="spacingAndGlyphs" stroke="#1a1a1a" stroke-width="0.32">Deep Defect</text>
</svg></body></html>
